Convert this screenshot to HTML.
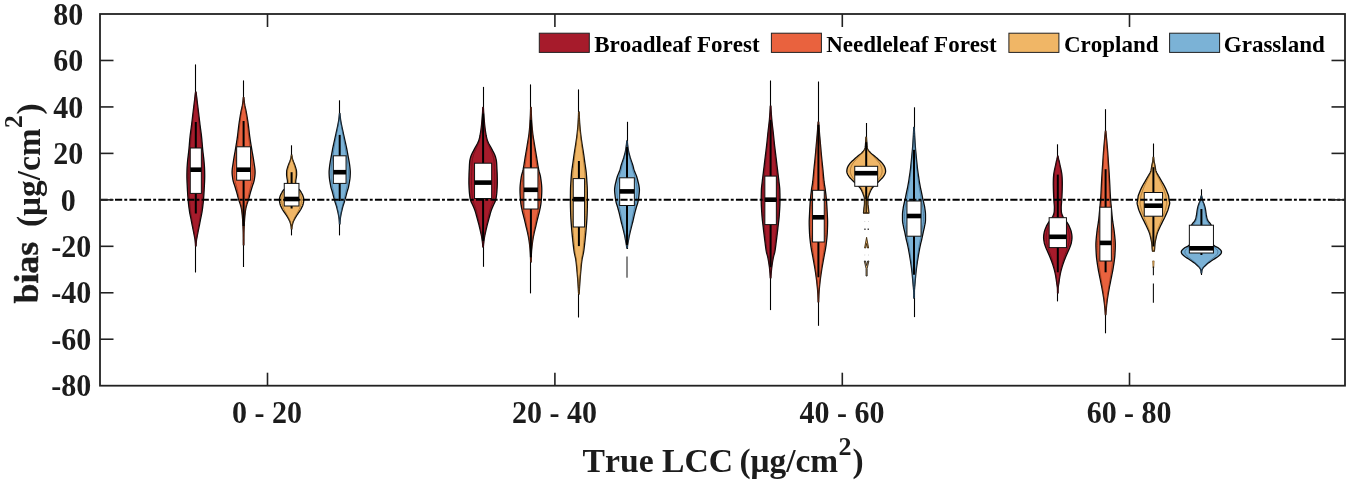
<!DOCTYPE html>
<html><head><meta charset="utf-8"><title>Violin plot: bias vs True LCC</title>
<style>
html,body{margin:0;padding:0;background:#fff;}
body{width:1350px;height:482px;overflow:hidden;font-family:"Liberation Serif",serif;}
svg{display:block;will-change:transform;transform:translateZ(0);}
</style></head><body>
<svg width="1350" height="482" viewBox="0 0 1350 482">
<rect x="0" y="0" width="1350" height="482" fill="#ffffff"/>
<line x1="195.5" y1="64.4" x2="195.5" y2="272.5" stroke="#000" stroke-width="1.1"/>
<path d="M196.05,92.00 L196.22,93.41 L196.39,94.83 L196.57,96.24 L196.74,97.65 L196.91,99.06 L197.08,100.48 L197.25,101.89 L197.42,103.30 L197.60,104.72 L197.77,106.13 L197.94,107.54 L198.11,108.95 L198.28,110.37 L198.45,111.78 L198.62,113.19 L198.79,114.61 L198.96,116.02 L199.12,117.43 L199.29,118.84 L199.46,120.26 L199.63,121.67 L199.80,123.08 L199.97,124.50 L200.15,125.91 L200.34,127.32 L200.53,128.73 L200.73,130.15 L200.92,131.56 L201.11,132.97 L201.29,134.39 L201.46,135.80 L201.61,137.21 L201.75,138.62 L201.88,140.04 L202.00,141.45 L202.12,142.86 L202.24,144.28 L202.35,145.69 L202.47,147.10 L202.60,148.51 L202.73,149.93 L202.88,151.34 L203.05,152.75 L203.22,154.17 L203.39,155.58 L203.56,156.99 L203.73,158.40 L203.88,159.82 L204.02,161.23 L204.14,162.64 L204.25,164.06 L204.36,165.47 L204.45,166.88 L204.54,168.29 L204.59,169.71 L204.63,171.12 L204.66,172.53 L204.68,173.94 L204.70,175.36 L204.70,176.77 L204.68,178.18 L204.64,179.60 L204.59,181.01 L204.53,182.42 L204.46,183.83 L204.39,185.25 L204.32,186.66 L204.25,188.07 L204.18,189.49 L204.11,190.90 L204.02,192.31 L203.94,193.72 L203.84,195.14 L203.74,196.55 L203.63,197.96 L203.52,199.38 L203.40,200.79 L203.26,202.20 L203.11,203.61 L202.95,205.03 L202.78,206.44 L202.60,207.85 L202.40,209.27 L202.20,210.68 L201.99,212.09 L201.74,213.50 L201.46,214.92 L201.16,216.33 L200.86,217.74 L200.57,219.16 L200.30,220.57 L200.04,221.98 L199.77,223.39 L199.49,224.81 L199.20,226.22 L198.91,227.63 L198.62,229.05 L198.33,230.46 L198.04,231.87 L197.77,233.28 L197.50,234.70 L197.23,236.11 L196.94,237.52 L196.68,238.94 L196.47,240.35 L196.33,241.76 L196.20,243.17 L196.11,244.59 L196.05,246.00 L195.55,246.00 L195.49,244.59 L195.40,243.17 L195.27,241.76 L195.13,240.35 L194.92,238.94 L194.66,237.52 L194.37,236.11 L194.10,234.70 L193.83,233.28 L193.56,231.87 L193.27,230.46 L192.98,229.05 L192.69,227.63 L192.40,226.22 L192.11,224.81 L191.83,223.39 L191.56,221.98 L191.30,220.57 L191.03,219.16 L190.74,217.74 L190.44,216.33 L190.14,214.92 L189.86,213.50 L189.61,212.09 L189.40,210.68 L189.20,209.27 L189.00,207.85 L188.82,206.44 L188.65,205.03 L188.49,203.61 L188.34,202.20 L188.20,200.79 L188.08,199.38 L187.97,197.96 L187.86,196.55 L187.76,195.14 L187.66,193.72 L187.58,192.31 L187.49,190.90 L187.42,189.49 L187.35,188.07 L187.28,186.66 L187.21,185.25 L187.14,183.83 L187.07,182.42 L187.01,181.01 L186.96,179.60 L186.92,178.18 L186.90,176.77 L186.90,175.36 L186.92,173.94 L186.94,172.53 L186.97,171.12 L187.01,169.71 L187.06,168.29 L187.15,166.88 L187.24,165.47 L187.35,164.06 L187.46,162.64 L187.58,161.23 L187.72,159.82 L187.87,158.40 L188.04,156.99 L188.21,155.58 L188.38,154.17 L188.55,152.75 L188.72,151.34 L188.87,149.93 L189.00,148.51 L189.13,147.10 L189.25,145.69 L189.36,144.28 L189.48,142.86 L189.60,141.45 L189.72,140.04 L189.85,138.62 L189.99,137.21 L190.14,135.80 L190.31,134.39 L190.49,132.97 L190.68,131.56 L190.87,130.15 L191.07,128.73 L191.26,127.32 L191.45,125.91 L191.63,124.50 L191.80,123.08 L191.97,121.67 L192.14,120.26 L192.31,118.84 L192.48,117.43 L192.64,116.02 L192.81,114.61 L192.98,113.19 L193.15,111.78 L193.32,110.37 L193.49,108.95 L193.66,107.54 L193.83,106.13 L194.00,104.72 L194.18,103.30 L194.35,101.89 L194.52,100.48 L194.69,99.06 L194.86,97.65 L195.03,96.24 L195.21,94.83 L195.38,93.41 L195.55,92.00 Z" fill="#A61B2B" stroke="#0a0a0a" stroke-width="1.3" stroke-linejoin="round"/>
<path d="M196.01,92.00 L196.15,93.41 L196.29,94.83 L196.43,96.24 L196.57,97.65 L196.71,99.06 L196.85,100.48 L196.99,101.89 L197.13,103.30 L197.27,104.72 L197.41,106.13 L197.55,107.54 L197.69,108.95 L197.83,110.37 L197.97,111.78 L198.11,113.19 L198.25,114.61 L198.39,116.02 L198.52,117.43 L198.66,118.84 L198.80,120.26 L198.94,121.67 L199.08,123.08 L199.22,124.50 L199.37,125.91 L199.52,127.32 L199.68,128.73 L199.84,130.15 L200.00,131.56 L200.15,132.97 L200.30,134.39 L200.44,135.80 L200.57,137.21 L200.68,138.62 L200.79,140.04 L200.89,141.45 L200.98,142.86 L201.08,144.28 L201.17,145.69 L201.27,147.10 L201.37,148.51 L201.48,149.93 L201.61,151.34 L201.74,152.75 L201.88,154.17 L202.02,155.58 L202.16,156.99 L202.30,158.40 L202.43,159.82 L202.54,161.23 L202.63,162.64 L202.73,164.06 L202.82,165.47 L202.90,166.88 L202.96,168.29 L203.01,169.71 L203.04,171.12 L203.07,172.53 L203.09,173.94 L203.10,175.36 L203.10,176.77 L203.08,178.18 L203.05,179.60 L203.00,181.01 L202.95,182.42 L202.90,183.83 L202.84,185.25 L202.79,186.66 L202.73,188.07 L202.67,189.49 L202.61,190.90 L202.54,192.31 L202.47,193.72 L202.39,195.14 L202.31,196.55 L202.22,197.96 L202.13,199.38 L202.03,200.79 L201.92,202.20 L201.80,203.61 L201.66,205.03 L201.52,206.44 L201.37,207.85 L201.21,209.27 L201.05,210.68 L200.87,212.09 L200.67,213.50 L200.44,214.92 L200.20,216.33 L199.95,217.74 L199.71,219.16 L199.49,220.57 L199.28,221.98 L199.05,223.39 L198.82,224.81 L198.59,226.22 L198.35,227.63 L198.11,229.05 L197.87,230.46 L197.64,231.87 L197.41,233.28 L197.19,234.70 L196.97,236.11 L196.74,237.52 L196.53,238.94 L196.35,240.35 L196.23,241.76 L196.13,243.17 L196.05,244.59 L196.01,246.00 L195.59,246.00 L195.55,244.59 L195.47,243.17 L195.37,241.76 L195.25,240.35 L195.07,238.94 L194.86,237.52 L194.63,236.11 L194.41,234.70 L194.19,233.28 L193.96,231.87 L193.73,230.46 L193.49,229.05 L193.25,227.63 L193.01,226.22 L192.78,224.81 L192.55,223.39 L192.32,221.98 L192.11,220.57 L191.89,219.16 L191.65,217.74 L191.40,216.33 L191.16,214.92 L190.93,213.50 L190.73,212.09 L190.55,210.68 L190.39,209.27 L190.23,207.85 L190.08,206.44 L189.94,205.03 L189.80,203.61 L189.68,202.20 L189.57,200.79 L189.47,199.38 L189.38,197.96 L189.29,196.55 L189.21,195.14 L189.13,193.72 L189.06,192.31 L188.99,190.90 L188.93,189.49 L188.87,188.07 L188.81,186.66 L188.76,185.25 L188.70,183.83 L188.65,182.42 L188.60,181.01 L188.55,179.60 L188.52,178.18 L188.50,176.77 L188.50,175.36 L188.51,173.94 L188.53,172.53 L188.56,171.12 L188.59,169.71 L188.64,168.29 L188.70,166.88 L188.78,165.47 L188.87,164.06 L188.97,162.64 L189.06,161.23 L189.17,159.82 L189.30,158.40 L189.44,156.99 L189.58,155.58 L189.72,154.17 L189.86,152.75 L189.99,151.34 L190.12,149.93 L190.23,148.51 L190.33,147.10 L190.43,145.69 L190.52,144.28 L190.62,142.86 L190.71,141.45 L190.81,140.04 L190.92,138.62 L191.03,137.21 L191.16,135.80 L191.30,134.39 L191.45,132.97 L191.60,131.56 L191.76,130.15 L191.92,128.73 L192.08,127.32 L192.23,125.91 L192.38,124.50 L192.52,123.08 L192.66,121.67 L192.80,120.26 L192.94,118.84 L193.08,117.43 L193.21,116.02 L193.35,114.61 L193.49,113.19 L193.63,111.78 L193.77,110.37 L193.91,108.95 L194.05,107.54 L194.19,106.13 L194.33,104.72 L194.47,103.30 L194.61,101.89 L194.75,100.48 L194.89,99.06 L195.03,97.65 L195.17,96.24 L195.31,94.83 L195.45,93.41 L195.59,92.00 Z" fill="none" stroke="#5c0a14" stroke-width="0.8" stroke-opacity="0.8"/>
<line x1="195.8" y1="122" x2="195.8" y2="213.5" stroke="#000" stroke-width="2"/>
<rect x="190.25" y="148.0" width="11.10" height="45.40" fill="#fff" stroke="#111" stroke-width="1"/>
<rect x="190.25" y="167.40" width="11.10" height="4.6" fill="#000"/>
<line x1="243.5" y1="80.4" x2="243.5" y2="267" stroke="#000" stroke-width="1.1"/>
<path d="M243.85,97.30 L243.96,98.66 L244.09,100.01 L244.25,101.37 L244.42,102.72 L244.61,104.08 L244.84,105.43 L245.12,106.79 L245.42,108.14 L245.73,109.50 L246.03,110.85 L246.30,112.21 L246.54,113.56 L246.78,114.92 L247.01,116.27 L247.24,117.63 L247.45,118.98 L247.66,120.34 L247.87,121.69 L248.07,123.05 L248.26,124.40 L248.44,125.76 L248.61,127.11 L248.78,128.47 L248.93,129.82 L249.09,131.18 L249.24,132.53 L249.40,133.89 L249.57,135.24 L249.74,136.60 L249.93,137.95 L250.13,139.31 L250.34,140.66 L250.55,142.02 L250.77,143.37 L250.99,144.73 L251.22,146.08 L251.44,147.44 L251.67,148.79 L251.89,150.15 L252.12,151.50 L252.36,152.86 L252.60,154.21 L252.85,155.57 L253.09,156.92 L253.32,158.28 L253.55,159.63 L253.75,160.99 L253.95,162.34 L254.15,163.70 L254.36,165.05 L254.57,166.41 L254.77,167.76 L254.93,169.12 L255.04,170.47 L255.10,171.83 L255.08,173.18 L254.99,174.54 L254.85,175.89 L254.68,177.25 L254.47,178.60 L254.26,179.96 L253.95,181.31 L253.56,182.67 L253.10,184.02 L252.63,185.38 L252.18,186.73 L251.77,188.09 L251.36,189.44 L250.95,190.80 L250.54,192.15 L250.16,193.51 L249.80,194.86 L249.45,196.22 L249.10,197.57 L248.73,198.93 L248.32,200.28 L247.84,201.64 L247.35,202.99 L246.89,204.35 L246.51,205.70 L246.16,207.06 L245.85,208.41 L245.60,209.77 L245.42,211.12 L245.24,212.48 L245.09,213.83 L244.94,215.19 L244.81,216.54 L244.70,217.90 L244.59,219.25 L244.50,220.61 L244.41,221.96 L244.34,223.32 L244.26,224.67 L244.19,226.03 L244.12,227.38 L244.06,228.74 L244.01,230.09 L243.96,231.45 L243.93,232.80 L243.91,234.16 L243.89,235.51 L243.88,236.87 L243.87,238.22 L243.87,239.58 L243.86,240.93 L243.85,242.29 L243.85,243.64 L243.85,245.00 L243.35,245.00 L243.35,243.64 L243.35,242.29 L243.34,240.93 L243.33,239.58 L243.33,238.22 L243.32,236.87 L243.31,235.51 L243.29,234.16 L243.27,232.80 L243.24,231.45 L243.19,230.09 L243.14,228.74 L243.08,227.38 L243.01,226.03 L242.94,224.67 L242.86,223.32 L242.79,221.96 L242.70,220.61 L242.61,219.25 L242.50,217.90 L242.39,216.54 L242.26,215.19 L242.11,213.83 L241.96,212.48 L241.78,211.12 L241.60,209.77 L241.35,208.41 L241.04,207.06 L240.69,205.70 L240.31,204.35 L239.85,202.99 L239.36,201.64 L238.88,200.28 L238.47,198.93 L238.10,197.57 L237.75,196.22 L237.40,194.86 L237.04,193.51 L236.66,192.15 L236.25,190.80 L235.84,189.44 L235.43,188.09 L235.02,186.73 L234.57,185.38 L234.10,184.02 L233.64,182.67 L233.25,181.31 L232.94,179.96 L232.73,178.60 L232.52,177.25 L232.35,175.89 L232.21,174.54 L232.12,173.18 L232.10,171.83 L232.16,170.47 L232.27,169.12 L232.43,167.76 L232.63,166.41 L232.84,165.05 L233.05,163.70 L233.25,162.34 L233.45,160.99 L233.65,159.63 L233.88,158.28 L234.11,156.92 L234.35,155.57 L234.60,154.21 L234.84,152.86 L235.08,151.50 L235.31,150.15 L235.53,148.79 L235.76,147.44 L235.98,146.08 L236.21,144.73 L236.43,143.37 L236.65,142.02 L236.86,140.66 L237.07,139.31 L237.27,137.95 L237.46,136.60 L237.63,135.24 L237.80,133.89 L237.96,132.53 L238.11,131.18 L238.27,129.82 L238.42,128.47 L238.59,127.11 L238.76,125.76 L238.94,124.40 L239.13,123.05 L239.33,121.69 L239.54,120.34 L239.75,118.98 L239.96,117.63 L240.19,116.27 L240.42,114.92 L240.66,113.56 L240.90,112.21 L241.17,110.85 L241.47,109.50 L241.78,108.14 L242.08,106.79 L242.36,105.43 L242.59,104.08 L242.78,102.72 L242.95,101.37 L243.11,100.01 L243.24,98.66 L243.35,97.30 Z" fill="#E9623E" stroke="#0a0a0a" stroke-width="1.3" stroke-linejoin="round"/>
<path d="M243.81,97.30 L243.89,98.66 L244.00,100.01 L244.13,101.37 L244.27,102.72 L244.43,104.08 L244.62,105.43 L244.84,106.79 L245.09,108.14 L245.35,109.50 L245.59,110.85 L245.81,112.21 L246.01,113.56 L246.21,114.92 L246.40,116.27 L246.58,117.63 L246.76,118.98 L246.93,120.34 L247.10,121.69 L247.26,123.05 L247.42,124.40 L247.57,125.76 L247.71,127.11 L247.84,128.47 L247.97,129.82 L248.10,131.18 L248.23,132.53 L248.36,133.89 L248.49,135.24 L248.64,136.60 L248.79,137.95 L248.96,139.31 L249.13,140.66 L249.30,142.02 L249.48,143.37 L249.66,144.73 L249.85,146.08 L250.03,147.44 L250.21,148.79 L250.40,150.15 L250.59,151.50 L250.78,152.86 L250.98,154.21 L251.18,155.57 L251.38,156.92 L251.57,158.28 L251.76,159.63 L251.93,160.99 L252.09,162.34 L252.25,163.70 L252.43,165.05 L252.60,166.41 L252.76,167.76 L252.89,169.12 L252.98,170.47 L253.03,171.83 L253.01,173.18 L252.94,174.54 L252.83,175.89 L252.68,177.25 L252.52,178.60 L252.34,179.96 L252.09,181.31 L251.76,182.67 L251.39,184.02 L251.00,185.38 L250.64,186.73 L250.30,188.09 L249.96,189.44 L249.62,190.80 L249.29,192.15 L248.98,193.51 L248.68,194.86 L248.40,196.22 L248.11,197.57 L247.80,198.93 L247.47,200.28 L247.08,201.64 L246.67,202.99 L246.30,204.35 L245.99,205.70 L245.70,207.06 L245.44,208.41 L245.24,209.77 L245.09,211.12 L244.95,212.48 L244.82,213.83 L244.70,215.19 L244.59,216.54 L244.50,217.90 L244.41,219.25 L244.34,220.61 L244.27,221.96 L244.20,223.32 L244.14,224.67 L244.08,226.03 L244.03,227.38 L243.98,228.74 L243.93,230.09 L243.90,231.45 L243.87,232.80 L243.85,234.16 L243.84,235.51 L243.83,236.87 L243.82,238.22 L243.82,239.58 L243.81,240.93 L243.81,242.29 L243.81,243.64 L243.81,245.00 L243.39,245.00 L243.39,243.64 L243.39,242.29 L243.39,240.93 L243.38,239.58 L243.38,238.22 L243.37,236.87 L243.36,235.51 L243.35,234.16 L243.33,232.80 L243.30,231.45 L243.27,230.09 L243.22,228.74 L243.17,227.38 L243.12,226.03 L243.06,224.67 L243.00,223.32 L242.93,221.96 L242.86,220.61 L242.79,219.25 L242.70,217.90 L242.61,216.54 L242.50,215.19 L242.38,213.83 L242.25,212.48 L242.11,211.12 L241.96,209.77 L241.76,208.41 L241.50,207.06 L241.21,205.70 L240.90,204.35 L240.53,202.99 L240.12,201.64 L239.73,200.28 L239.40,198.93 L239.09,197.57 L238.80,196.22 L238.52,194.86 L238.22,193.51 L237.91,192.15 L237.58,190.80 L237.24,189.44 L236.90,188.09 L236.56,186.73 L236.20,185.38 L235.81,184.02 L235.44,182.67 L235.11,181.31 L234.86,179.96 L234.68,178.60 L234.52,177.25 L234.37,175.89 L234.26,174.54 L234.19,173.18 L234.17,171.83 L234.22,170.47 L234.31,169.12 L234.44,167.76 L234.60,166.41 L234.77,165.05 L234.95,163.70 L235.11,162.34 L235.27,160.99 L235.44,159.63 L235.63,158.28 L235.82,156.92 L236.02,155.57 L236.22,154.21 L236.42,152.86 L236.61,151.50 L236.80,150.15 L236.99,148.79 L237.17,147.44 L237.35,146.08 L237.54,144.73 L237.72,143.37 L237.90,142.02 L238.07,140.66 L238.24,139.31 L238.41,137.95 L238.56,136.60 L238.71,135.24 L238.84,133.89 L238.97,132.53 L239.10,131.18 L239.23,129.82 L239.36,128.47 L239.49,127.11 L239.63,125.76 L239.78,124.40 L239.94,123.05 L240.10,121.69 L240.27,120.34 L240.44,118.98 L240.62,117.63 L240.80,116.27 L240.99,114.92 L241.19,113.56 L241.39,112.21 L241.61,110.85 L241.85,109.50 L242.11,108.14 L242.36,106.79 L242.58,105.43 L242.77,104.08 L242.93,102.72 L243.07,101.37 L243.20,100.01 L243.31,98.66 L243.39,97.30 Z" fill="none" stroke="#7a2a12" stroke-width="0.8" stroke-opacity="0.8"/>
<line x1="243.6" y1="121" x2="243.6" y2="226" stroke="#000" stroke-width="2"/>
<rect x="236.65" y="146.8" width="13.90" height="33.40" fill="#fff" stroke="#111" stroke-width="1"/>
<rect x="236.65" y="167.40" width="13.90" height="4.6" fill="#000"/>
<line x1="291.5" y1="145.3" x2="291.5" y2="235.4" stroke="#000" stroke-width="1.1"/>
<path d="M291.85,155.00 L291.91,155.68 L292.01,156.36 L292.12,157.04 L292.24,157.72 L292.39,158.39 L292.57,159.07 L292.78,159.75 L293.01,160.43 L293.24,161.11 L293.49,161.79 L293.76,162.47 L294.03,163.15 L294.31,163.83 L294.58,164.50 L294.84,165.18 L295.09,165.86 L295.31,166.54 L295.53,167.22 L295.73,167.90 L295.92,168.58 L296.11,169.26 L296.30,169.94 L296.45,170.61 L296.51,171.29 L296.54,171.97 L296.57,172.65 L296.59,173.33 L296.60,174.01 L296.60,174.69 L296.55,175.37 L296.47,176.05 L296.38,176.72 L296.29,177.40 L296.18,178.08 L296.06,178.76 L295.93,179.44 L295.81,180.12 L295.73,180.80 L295.70,181.48 L295.70,182.16 L295.70,182.83 L295.70,183.51 L295.70,184.19 L295.70,184.87 L295.73,185.55 L295.86,186.23 L296.08,186.91 L296.38,187.59 L296.89,188.27 L298.29,188.94 L299.27,189.62 L299.91,190.30 L300.43,190.98 L300.84,191.66 L301.21,192.34 L301.60,193.02 L301.99,193.70 L302.34,194.38 L302.65,195.06 L302.93,195.73 L303.17,196.41 L303.39,197.09 L303.56,197.77 L303.67,198.45 L303.76,199.13 L303.80,199.81 L303.78,200.49 L303.70,201.17 L303.59,201.84 L303.48,202.52 L303.35,203.20 L303.19,203.88 L303.00,204.56 L302.79,205.24 L302.51,205.92 L302.19,206.60 L301.86,207.28 L301.53,207.95 L301.19,208.63 L300.83,209.31 L300.45,209.99 L300.01,210.67 L299.54,211.35 L299.06,212.03 L298.59,212.71 L298.13,213.39 L297.66,214.06 L297.20,214.74 L296.75,215.42 L296.31,216.10 L295.88,216.78 L295.47,217.46 L295.08,218.14 L294.71,218.82 L294.35,219.50 L294.01,220.17 L293.67,220.85 L293.37,221.53 L293.12,222.21 L292.90,222.89 L292.71,223.57 L292.54,224.25 L292.37,224.93 L292.21,225.61 L292.08,226.28 L291.98,226.96 L291.92,227.64 L291.87,228.32 L291.85,229.00 L291.35,229.00 L291.33,228.32 L291.28,227.64 L291.22,226.96 L291.12,226.28 L290.99,225.61 L290.83,224.93 L290.66,224.25 L290.49,223.57 L290.30,222.89 L290.08,222.21 L289.83,221.53 L289.53,220.85 L289.19,220.17 L288.85,219.50 L288.49,218.82 L288.12,218.14 L287.73,217.46 L287.32,216.78 L286.89,216.10 L286.45,215.42 L286.00,214.74 L285.54,214.06 L285.07,213.39 L284.61,212.71 L284.14,212.03 L283.66,211.35 L283.19,210.67 L282.75,209.99 L282.37,209.31 L282.01,208.63 L281.67,207.95 L281.34,207.28 L281.01,206.60 L280.69,205.92 L280.41,205.24 L280.20,204.56 L280.01,203.88 L279.85,203.20 L279.72,202.52 L279.61,201.84 L279.50,201.17 L279.42,200.49 L279.40,199.81 L279.44,199.13 L279.53,198.45 L279.64,197.77 L279.81,197.09 L280.03,196.41 L280.27,195.73 L280.55,195.06 L280.86,194.38 L281.21,193.70 L281.60,193.02 L281.99,192.34 L282.36,191.66 L282.77,190.98 L283.29,190.30 L283.93,189.62 L284.91,188.94 L286.31,188.27 L286.82,187.59 L287.12,186.91 L287.34,186.23 L287.47,185.55 L287.50,184.87 L287.50,184.19 L287.50,183.51 L287.50,182.83 L287.50,182.16 L287.50,181.48 L287.47,180.80 L287.39,180.12 L287.27,179.44 L287.14,178.76 L287.02,178.08 L286.91,177.40 L286.82,176.72 L286.73,176.05 L286.65,175.37 L286.60,174.69 L286.60,174.01 L286.61,173.33 L286.63,172.65 L286.66,171.97 L286.69,171.29 L286.75,170.61 L286.90,169.94 L287.09,169.26 L287.28,168.58 L287.47,167.90 L287.67,167.22 L287.89,166.54 L288.11,165.86 L288.36,165.18 L288.62,164.50 L288.89,163.83 L289.17,163.15 L289.44,162.47 L289.71,161.79 L289.96,161.11 L290.19,160.43 L290.42,159.75 L290.63,159.07 L290.81,158.39 L290.96,157.72 L291.08,157.04 L291.19,156.36 L291.29,155.68 L291.35,155.00 Z" fill="#F0B666" stroke="#0a0a0a" stroke-width="1.3" stroke-linejoin="round"/>
<path d="M291.81,155.00 L291.86,155.68 L291.93,156.36 L292.02,157.04 L292.13,157.72 L292.25,158.39 L292.40,159.07 L292.57,159.75 L292.76,160.43 L292.94,161.11 L293.15,161.79 L293.37,162.47 L293.59,163.15 L293.82,163.83 L294.05,164.50 L294.26,165.18 L294.46,165.86 L294.65,166.54 L294.82,167.22 L294.99,167.90 L295.14,168.58 L295.30,169.26 L295.46,169.94 L295.57,170.61 L295.63,171.29 L295.65,171.97 L295.67,172.65 L295.69,173.33 L295.70,174.01 L295.70,174.69 L295.66,175.37 L295.60,176.05 L295.52,176.72 L295.44,177.40 L295.36,178.08 L295.25,178.76 L295.15,179.44 L295.06,180.12 L294.99,180.80 L294.96,181.48 L294.96,182.16 L294.96,182.83 L294.96,183.51 L294.96,184.19 L294.96,184.87 L294.99,185.55 L295.09,186.23 L295.27,186.91 L295.52,187.59 L295.94,188.27 L297.08,188.94 L297.89,189.62 L298.42,190.30 L298.84,190.98 L299.18,191.66 L299.48,192.34 L299.80,193.02 L300.12,193.70 L300.40,194.38 L300.66,195.06 L300.89,195.73 L301.09,196.41 L301.27,197.09 L301.41,197.77 L301.50,198.45 L301.57,199.13 L301.60,199.81 L301.58,200.49 L301.52,201.17 L301.43,201.84 L301.34,202.52 L301.23,203.20 L301.10,203.88 L300.95,204.56 L300.77,205.24 L300.54,205.92 L300.28,206.60 L300.01,207.28 L299.75,207.95 L299.47,208.63 L299.17,209.31 L298.85,209.99 L298.50,210.67 L298.11,211.35 L297.72,212.03 L297.33,212.71 L296.95,213.39 L296.57,214.06 L296.20,214.74 L295.83,215.42 L295.46,216.10 L295.11,216.78 L294.77,217.46 L294.45,218.14 L294.15,218.82 L293.86,219.50 L293.58,220.17 L293.30,220.85 L293.05,221.53 L292.84,222.21 L292.66,222.89 L292.51,223.57 L292.37,224.25 L292.23,224.93 L292.10,225.61 L292.00,226.28 L291.92,226.96 L291.86,227.64 L291.83,228.32 L291.81,229.00 L291.40,229.00 L291.37,228.32 L291.34,227.64 L291.28,226.96 L291.20,226.28 L291.10,225.61 L290.97,224.93 L290.83,224.25 L290.69,223.57 L290.54,222.89 L290.36,222.21 L290.15,221.53 L289.90,220.85 L289.62,220.17 L289.34,219.50 L289.05,218.82 L288.75,218.14 L288.43,217.46 L288.09,216.78 L287.74,216.10 L287.37,215.42 L287.00,214.74 L286.63,214.06 L286.25,213.39 L285.87,212.71 L285.48,212.03 L285.09,211.35 L284.70,210.67 L284.35,209.99 L284.03,209.31 L283.73,208.63 L283.45,207.95 L283.19,207.28 L282.92,206.60 L282.66,205.92 L282.43,205.24 L282.25,204.56 L282.10,203.88 L281.97,203.20 L281.86,202.52 L281.77,201.84 L281.68,201.17 L281.62,200.49 L281.60,199.81 L281.63,199.13 L281.70,198.45 L281.79,197.77 L281.93,197.09 L282.11,196.41 L282.31,195.73 L282.54,195.06 L282.80,194.38 L283.08,193.70 L283.40,193.02 L283.72,192.34 L284.02,191.66 L284.36,190.98 L284.78,190.30 L285.31,189.62 L286.12,188.94 L287.26,188.27 L287.68,187.59 L287.93,186.91 L288.11,186.23 L288.21,185.55 L288.24,184.87 L288.24,184.19 L288.24,183.51 L288.24,182.83 L288.24,182.16 L288.24,181.48 L288.21,180.80 L288.14,180.12 L288.05,179.44 L287.95,178.76 L287.84,178.08 L287.76,177.40 L287.68,176.72 L287.60,176.05 L287.54,175.37 L287.50,174.69 L287.50,174.01 L287.51,173.33 L287.53,172.65 L287.55,171.97 L287.57,171.29 L287.63,170.61 L287.74,169.94 L287.90,169.26 L288.06,168.58 L288.21,167.90 L288.38,167.22 L288.55,166.54 L288.74,165.86 L288.94,165.18 L289.15,164.50 L289.38,163.83 L289.61,163.15 L289.83,162.47 L290.05,161.79 L290.26,161.11 L290.44,160.43 L290.63,159.75 L290.80,159.07 L290.95,158.39 L291.07,157.72 L291.18,157.04 L291.27,156.36 L291.34,155.68 L291.40,155.00 Z" fill="none" stroke="#8a5a1a" stroke-width="0.8" stroke-opacity="0.8"/>
<line x1="291.6" y1="172.2" x2="291.6" y2="208.5" stroke="#000" stroke-width="2"/>
<rect x="284.25" y="183.4" width="14.70" height="22.60" fill="#fff" stroke="#111" stroke-width="1"/>
<rect x="284.25" y="196.70" width="14.70" height="4.6" fill="#000"/>
<line x1="339.5" y1="100.3" x2="339.5" y2="235.4" stroke="#000" stroke-width="1.1"/>
<path d="M339.95,113.50 L340.02,114.51 L340.11,115.53 L340.21,116.54 L340.32,117.56 L340.45,118.57 L340.58,119.58 L340.73,120.60 L340.91,121.61 L341.10,122.62 L341.29,123.64 L341.49,124.65 L341.69,125.67 L341.89,126.68 L342.11,127.69 L342.33,128.71 L342.55,129.72 L342.77,130.73 L343.00,131.75 L343.23,132.76 L343.46,133.78 L343.69,134.79 L343.92,135.80 L344.14,136.82 L344.36,137.83 L344.58,138.84 L344.81,139.86 L345.03,140.87 L345.26,141.89 L345.48,142.90 L345.70,143.91 L345.93,144.93 L346.14,145.94 L346.36,146.95 L346.57,147.97 L346.78,148.98 L346.98,150.00 L347.17,151.01 L347.36,152.02 L347.54,153.04 L347.73,154.05 L347.91,155.06 L348.10,156.08 L348.29,157.09 L348.48,158.11 L348.67,159.12 L348.85,160.13 L349.03,161.15 L349.19,162.16 L349.35,163.17 L349.51,164.19 L349.66,165.20 L349.80,166.22 L349.92,167.23 L350.02,168.24 L350.12,169.26 L350.21,170.27 L350.28,171.28 L350.30,172.30 L350.29,173.31 L350.25,174.33 L350.20,175.34 L350.14,176.35 L350.07,177.37 L349.97,178.38 L349.84,179.39 L349.69,180.41 L349.53,181.42 L349.36,182.44 L349.19,183.45 L349.01,184.46 L348.82,185.48 L348.61,186.49 L348.38,187.50 L348.10,188.52 L347.79,189.53 L347.47,190.55 L347.15,191.56 L346.87,192.57 L346.61,193.59 L346.36,194.60 L346.10,195.61 L345.83,196.63 L345.57,197.64 L345.29,198.66 L345.01,199.67 L344.71,200.68 L344.41,201.70 L344.09,202.71 L343.76,203.72 L343.41,204.74 L343.07,205.75 L342.79,206.77 L342.53,207.78 L342.29,208.79 L342.05,209.81 L341.81,210.82 L341.56,211.83 L341.33,212.85 L341.13,213.86 L340.93,214.88 L340.75,215.89 L340.57,216.90 L340.41,217.92 L340.28,218.93 L340.18,219.94 L340.10,220.96 L340.03,221.97 L339.98,222.99 L339.95,224.00 L339.45,224.00 L339.42,222.99 L339.37,221.97 L339.30,220.96 L339.22,219.94 L339.12,218.93 L338.99,217.92 L338.83,216.90 L338.65,215.89 L338.47,214.88 L338.27,213.86 L338.07,212.85 L337.84,211.83 L337.59,210.82 L337.35,209.81 L337.11,208.79 L336.87,207.78 L336.61,206.77 L336.33,205.75 L335.99,204.74 L335.64,203.72 L335.31,202.71 L334.99,201.70 L334.69,200.68 L334.39,199.67 L334.11,198.66 L333.83,197.64 L333.57,196.63 L333.30,195.61 L333.04,194.60 L332.79,193.59 L332.53,192.57 L332.25,191.56 L331.93,190.55 L331.61,189.53 L331.30,188.52 L331.02,187.50 L330.79,186.49 L330.58,185.48 L330.39,184.46 L330.21,183.45 L330.04,182.44 L329.87,181.42 L329.71,180.41 L329.56,179.39 L329.43,178.38 L329.33,177.37 L329.26,176.35 L329.20,175.34 L329.15,174.33 L329.11,173.31 L329.10,172.30 L329.12,171.28 L329.19,170.27 L329.28,169.26 L329.38,168.24 L329.48,167.23 L329.60,166.22 L329.74,165.20 L329.89,164.19 L330.05,163.17 L330.21,162.16 L330.37,161.15 L330.55,160.13 L330.73,159.12 L330.92,158.11 L331.11,157.09 L331.30,156.08 L331.49,155.06 L331.67,154.05 L331.86,153.04 L332.04,152.02 L332.23,151.01 L332.42,150.00 L332.62,148.98 L332.83,147.97 L333.04,146.95 L333.26,145.94 L333.47,144.93 L333.70,143.91 L333.92,142.90 L334.14,141.89 L334.37,140.87 L334.59,139.86 L334.82,138.84 L335.04,137.83 L335.26,136.82 L335.48,135.80 L335.71,134.79 L335.94,133.78 L336.17,132.76 L336.40,131.75 L336.63,130.73 L336.85,129.72 L337.07,128.71 L337.29,127.69 L337.51,126.68 L337.71,125.67 L337.91,124.65 L338.11,123.64 L338.30,122.62 L338.49,121.61 L338.67,120.60 L338.82,119.58 L338.95,118.57 L339.08,117.56 L339.19,116.54 L339.29,115.53 L339.38,114.51 L339.45,113.50 Z" fill="#7BB2D6" stroke="#0a0a0a" stroke-width="1.3" stroke-linejoin="round"/>
<path d="M339.90,113.50 L339.96,114.51 L340.04,115.53 L340.12,116.54 L340.21,117.56 L340.31,118.57 L340.42,119.58 L340.55,120.60 L340.69,121.61 L340.85,122.62 L341.01,123.64 L341.17,124.65 L341.33,125.67 L341.50,126.68 L341.67,127.69 L341.85,128.71 L342.04,129.72 L342.22,130.73 L342.41,131.75 L342.60,132.76 L342.78,133.78 L342.97,134.79 L343.16,135.80 L343.34,136.82 L343.52,137.83 L343.70,138.84 L343.89,139.86 L344.07,140.87 L344.26,141.89 L344.44,142.90 L344.62,143.91 L344.80,144.93 L344.98,145.94 L345.16,146.95 L345.33,147.97 L345.50,148.98 L345.67,150.00 L345.83,151.01 L345.98,152.02 L346.13,153.04 L346.28,154.05 L346.43,155.06 L346.59,156.08 L346.74,157.09 L346.90,158.11 L347.06,159.12 L347.21,160.13 L347.35,161.15 L347.48,162.16 L347.62,163.17 L347.74,164.19 L347.87,165.20 L347.98,166.22 L348.08,167.23 L348.16,168.24 L348.25,169.26 L348.32,170.27 L348.37,171.28 L348.39,172.30 L348.38,173.31 L348.35,174.33 L348.31,175.34 L348.26,176.35 L348.21,177.37 L348.12,178.38 L348.02,179.39 L347.89,180.41 L347.76,181.42 L347.62,182.44 L347.48,183.45 L347.34,184.46 L347.18,185.48 L347.00,186.49 L346.81,187.50 L346.59,188.52 L346.34,189.53 L346.07,190.55 L345.81,191.56 L345.58,192.57 L345.37,193.59 L345.16,194.60 L344.95,195.61 L344.73,196.63 L344.51,197.64 L344.29,198.66 L344.05,199.67 L343.81,200.68 L343.56,201.70 L343.30,202.71 L343.03,203.72 L342.74,204.74 L342.47,205.75 L342.23,206.77 L342.02,207.78 L341.82,208.79 L341.63,209.81 L341.43,210.82 L341.23,211.83 L341.04,212.85 L340.87,213.86 L340.71,214.88 L340.56,215.89 L340.41,216.90 L340.28,217.92 L340.17,218.93 L340.09,219.94 L340.03,220.96 L339.97,221.97 L339.93,222.99 L339.90,224.00 L339.50,224.00 L339.47,222.99 L339.43,221.97 L339.37,220.96 L339.31,219.94 L339.23,218.93 L339.12,217.92 L338.99,216.90 L338.84,215.89 L338.69,214.88 L338.53,213.86 L338.36,212.85 L338.17,211.83 L337.97,210.82 L337.77,209.81 L337.58,208.79 L337.38,207.78 L337.17,206.77 L336.93,205.75 L336.66,204.74 L336.37,203.72 L336.10,202.71 L335.84,201.70 L335.59,200.68 L335.35,199.67 L335.11,198.66 L334.89,197.64 L334.67,196.63 L334.45,195.61 L334.24,194.60 L334.03,193.59 L333.82,192.57 L333.59,191.56 L333.33,190.55 L333.06,189.53 L332.81,188.52 L332.59,187.50 L332.40,186.49 L332.22,185.48 L332.06,184.46 L331.92,183.45 L331.78,182.44 L331.64,181.42 L331.51,180.41 L331.38,179.39 L331.28,178.38 L331.19,177.37 L331.14,176.35 L331.09,175.34 L331.05,174.33 L331.02,173.31 L331.01,172.30 L331.03,171.28 L331.08,170.27 L331.15,169.26 L331.24,168.24 L331.32,167.23 L331.42,166.22 L331.53,165.20 L331.66,164.19 L331.78,163.17 L331.92,162.16 L332.05,161.15 L332.19,160.13 L332.34,159.12 L332.50,158.11 L332.66,157.09 L332.81,156.08 L332.97,155.06 L333.12,154.05 L333.27,153.04 L333.42,152.02 L333.57,151.01 L333.73,150.00 L333.90,148.98 L334.07,147.97 L334.24,146.95 L334.42,145.94 L334.60,144.93 L334.78,143.91 L334.96,142.90 L335.14,141.89 L335.33,140.87 L335.51,139.86 L335.70,138.84 L335.88,137.83 L336.06,136.82 L336.24,135.80 L336.43,134.79 L336.62,133.78 L336.80,132.76 L336.99,131.75 L337.18,130.73 L337.36,129.72 L337.55,128.71 L337.73,127.69 L337.90,126.68 L338.07,125.67 L338.23,124.65 L338.39,123.64 L338.55,122.62 L338.71,121.61 L338.85,120.60 L338.98,119.58 L339.09,118.57 L339.19,117.56 L339.28,116.54 L339.36,115.53 L339.44,114.51 L339.50,113.50 Z" fill="none" stroke="#2f5f85" stroke-width="0.8" stroke-opacity="0.8"/>
<line x1="339.7" y1="134.9" x2="339.7" y2="201" stroke="#000" stroke-width="2"/>
<rect x="333.35" y="155.8" width="12.70" height="27.60" fill="#fff" stroke="#111" stroke-width="1"/>
<rect x="333.35" y="169.90" width="12.70" height="4.6" fill="#000"/>
<line x1="483.5" y1="86.9" x2="483.5" y2="266.8" stroke="#000" stroke-width="1.1"/>
<path d="M483.35,107.30 L483.42,108.58 L483.49,109.86 L483.56,111.14 L483.65,112.43 L483.73,113.71 L483.83,114.99 L483.92,116.27 L484.02,117.55 L484.12,118.83 L484.23,120.12 L484.34,121.40 L484.46,122.68 L484.58,123.96 L484.72,125.24 L484.86,126.52 L485.01,127.81 L485.16,129.09 L485.33,130.37 L485.52,131.65 L485.72,132.93 L485.94,134.21 L486.18,135.50 L486.45,136.78 L486.75,138.06 L487.09,139.34 L487.49,140.62 L487.96,141.90 L488.59,143.19 L489.28,144.47 L489.99,145.75 L490.73,147.03 L491.42,148.31 L492.08,149.59 L492.74,150.88 L493.44,152.16 L494.14,153.44 L494.70,154.72 L495.18,156.00 L495.58,157.28 L495.95,158.57 L496.24,159.85 L496.43,161.13 L496.57,162.41 L496.68,163.69 L496.75,164.97 L496.81,166.26 L496.86,167.54 L496.91,168.82 L496.98,170.10 L497.05,171.38 L497.12,172.66 L497.17,173.95 L497.20,175.23 L497.23,176.51 L497.26,177.79 L497.28,179.07 L497.29,180.35 L497.30,181.64 L497.30,182.92 L497.27,184.20 L497.23,185.48 L497.18,186.76 L497.11,188.04 L497.04,189.33 L496.96,190.61 L496.87,191.89 L496.76,193.17 L496.62,194.45 L496.46,195.73 L496.28,197.02 L496.07,198.30 L495.82,199.58 L495.46,200.86 L494.89,202.14 L494.25,203.42 L493.63,204.71 L493.08,205.99 L492.54,207.27 L492.01,208.55 L491.51,209.83 L491.06,211.11 L490.66,212.40 L490.29,213.68 L489.93,214.96 L489.57,216.24 L489.22,217.52 L488.88,218.80 L488.54,220.09 L488.20,221.37 L487.86,222.65 L487.51,223.93 L487.18,225.21 L486.85,226.49 L486.54,227.78 L486.24,229.06 L485.95,230.34 L485.67,231.62 L485.40,232.90 L485.11,234.18 L484.84,235.47 L484.58,236.75 L484.34,238.03 L484.14,239.31 L483.97,240.59 L483.81,241.87 L483.67,243.16 L483.54,244.44 L483.43,245.72 L483.35,247.00 L482.85,247.00 L482.77,245.72 L482.66,244.44 L482.53,243.16 L482.39,241.87 L482.23,240.59 L482.06,239.31 L481.86,238.03 L481.62,236.75 L481.36,235.47 L481.09,234.18 L480.80,232.90 L480.53,231.62 L480.25,230.34 L479.96,229.06 L479.66,227.78 L479.35,226.49 L479.02,225.21 L478.69,223.93 L478.34,222.65 L478.00,221.37 L477.66,220.09 L477.32,218.80 L476.98,217.52 L476.63,216.24 L476.27,214.96 L475.91,213.68 L475.54,212.40 L475.14,211.11 L474.69,209.83 L474.19,208.55 L473.66,207.27 L473.12,205.99 L472.57,204.71 L471.95,203.42 L471.31,202.14 L470.74,200.86 L470.38,199.58 L470.13,198.30 L469.92,197.02 L469.74,195.73 L469.58,194.45 L469.44,193.17 L469.33,191.89 L469.24,190.61 L469.16,189.33 L469.09,188.04 L469.02,186.76 L468.97,185.48 L468.93,184.20 L468.90,182.92 L468.90,181.64 L468.91,180.35 L468.92,179.07 L468.94,177.79 L468.97,176.51 L469.00,175.23 L469.03,173.95 L469.08,172.66 L469.15,171.38 L469.22,170.10 L469.29,168.82 L469.34,167.54 L469.39,166.26 L469.45,164.97 L469.52,163.69 L469.63,162.41 L469.77,161.13 L469.96,159.85 L470.25,158.57 L470.62,157.28 L471.02,156.00 L471.50,154.72 L472.06,153.44 L472.76,152.16 L473.46,150.88 L474.12,149.59 L474.78,148.31 L475.47,147.03 L476.21,145.75 L476.92,144.47 L477.61,143.19 L478.24,141.90 L478.71,140.62 L479.11,139.34 L479.45,138.06 L479.75,136.78 L480.02,135.50 L480.26,134.21 L480.48,132.93 L480.68,131.65 L480.87,130.37 L481.04,129.09 L481.19,127.81 L481.34,126.52 L481.48,125.24 L481.62,123.96 L481.74,122.68 L481.86,121.40 L481.97,120.12 L482.08,118.83 L482.18,117.55 L482.28,116.27 L482.37,114.99 L482.47,113.71 L482.55,112.43 L482.64,111.14 L482.71,109.86 L482.78,108.58 L482.85,107.30 Z" fill="#A61B2B" stroke="#0a0a0a" stroke-width="1.3" stroke-linejoin="round"/>
<path d="M483.31,107.30 L483.36,108.58 L483.42,109.86 L483.48,111.14 L483.55,112.43 L483.62,113.71 L483.70,114.99 L483.77,116.27 L483.85,117.55 L483.94,118.83 L484.02,120.12 L484.11,121.40 L484.21,122.68 L484.32,123.96 L484.43,125.24 L484.54,126.52 L484.66,127.81 L484.79,129.09 L484.93,130.37 L485.08,131.65 L485.25,132.93 L485.42,134.21 L485.62,135.50 L485.85,136.78 L486.09,138.06 L486.38,139.34 L486.70,140.62 L487.09,141.90 L487.60,143.19 L488.17,144.47 L488.75,145.75 L489.36,147.03 L489.93,148.31 L490.46,149.59 L491.00,150.88 L491.58,152.16 L492.15,153.44 L492.61,154.72 L493.01,156.00 L493.34,157.28 L493.64,158.57 L493.88,159.85 L494.03,161.13 L494.15,162.41 L494.24,163.69 L494.30,164.97 L494.34,166.26 L494.38,167.54 L494.43,168.82 L494.48,170.10 L494.54,171.38 L494.59,172.66 L494.64,173.95 L494.67,175.23 L494.69,176.51 L494.71,177.79 L494.72,179.07 L494.74,180.35 L494.74,181.64 L494.74,182.92 L494.72,184.20 L494.69,185.48 L494.64,186.76 L494.59,188.04 L494.53,189.33 L494.47,190.61 L494.39,191.89 L494.30,193.17 L494.19,194.45 L494.06,195.73 L493.91,197.02 L493.73,198.30 L493.53,199.58 L493.23,200.86 L492.77,202.14 L492.24,203.42 L491.73,204.71 L491.29,205.99 L490.84,207.27 L490.40,208.55 L490.00,209.83 L489.63,211.11 L489.30,212.40 L489.00,213.68 L488.70,214.96 L488.41,216.24 L488.12,217.52 L487.84,218.80 L487.56,220.09 L487.28,221.37 L487.00,222.65 L486.72,223.93 L486.44,225.21 L486.17,226.49 L485.92,227.78 L485.67,229.06 L485.44,230.34 L485.21,231.62 L484.98,232.90 L484.75,234.18 L484.52,235.47 L484.31,236.75 L484.12,238.03 L483.95,239.31 L483.81,240.59 L483.68,241.87 L483.57,243.16 L483.46,244.44 L483.37,245.72 L483.31,247.00 L482.90,247.00 L482.83,245.72 L482.74,244.44 L482.63,243.16 L482.52,241.87 L482.39,240.59 L482.25,239.31 L482.08,238.03 L481.89,236.75 L481.68,235.47 L481.45,234.18 L481.22,232.90 L480.99,231.62 L480.76,230.34 L480.53,229.06 L480.28,227.78 L480.03,226.49 L479.76,225.21 L479.48,223.93 L479.20,222.65 L478.92,221.37 L478.64,220.09 L478.36,218.80 L478.08,217.52 L477.79,216.24 L477.50,214.96 L477.20,213.68 L476.90,212.40 L476.57,211.11 L476.20,209.83 L475.80,208.55 L475.36,207.27 L474.91,205.99 L474.47,204.71 L473.96,203.42 L473.43,202.14 L472.97,200.86 L472.67,199.58 L472.47,198.30 L472.29,197.02 L472.14,195.73 L472.01,194.45 L471.90,193.17 L471.81,191.89 L471.73,190.61 L471.67,189.33 L471.61,188.04 L471.56,186.76 L471.51,185.48 L471.48,184.20 L471.46,182.92 L471.46,181.64 L471.46,180.35 L471.48,179.07 L471.49,177.79 L471.51,176.51 L471.53,175.23 L471.56,173.95 L471.61,172.66 L471.66,171.38 L471.72,170.10 L471.77,168.82 L471.82,167.54 L471.86,166.26 L471.90,164.97 L471.96,163.69 L472.05,162.41 L472.17,161.13 L472.32,159.85 L472.56,158.57 L472.86,157.28 L473.19,156.00 L473.59,154.72 L474.05,153.44 L474.62,152.16 L475.20,150.88 L475.74,149.59 L476.27,148.31 L476.84,147.03 L477.45,145.75 L478.03,144.47 L478.60,143.19 L479.11,141.90 L479.50,140.62 L479.82,139.34 L480.11,138.06 L480.35,136.78 L480.58,135.50 L480.78,134.21 L480.95,132.93 L481.12,131.65 L481.27,130.37 L481.41,129.09 L481.54,127.81 L481.66,126.52 L481.77,125.24 L481.88,123.96 L481.99,122.68 L482.09,121.40 L482.18,120.12 L482.26,118.83 L482.35,117.55 L482.43,116.27 L482.50,114.99 L482.58,113.71 L482.65,112.43 L482.72,111.14 L482.78,109.86 L482.84,108.58 L482.90,107.30 Z" fill="none" stroke="#5c0a14" stroke-width="0.8" stroke-opacity="0.8"/>
<line x1="483.1" y1="113.6" x2="483.1" y2="241" stroke="#000" stroke-width="2"/>
<rect x="474.55" y="163.2" width="17.10" height="35.30" fill="#fff" stroke="#111" stroke-width="1"/>
<rect x="474.55" y="180.30" width="17.10" height="4.6" fill="#000"/>
<line x1="530.5" y1="84.4" x2="530.5" y2="293.4" stroke="#000" stroke-width="1.1"/>
<path d="M531.15,107.30 L531.17,108.72 L531.21,110.14 L531.25,111.56 L531.30,112.98 L531.35,114.40 L531.41,115.82 L531.48,117.23 L531.54,118.65 L531.61,120.07 L531.69,121.49 L531.78,122.91 L531.88,124.33 L531.99,125.75 L532.11,127.17 L532.24,128.59 L532.38,130.01 L532.52,131.43 L532.67,132.85 L532.84,134.27 L533.04,135.69 L533.25,137.10 L533.48,138.52 L533.71,139.94 L533.95,141.36 L534.19,142.78 L534.42,144.20 L534.65,145.62 L534.88,147.04 L535.12,148.46 L535.36,149.88 L535.61,151.30 L535.85,152.72 L536.09,154.14 L536.34,155.56 L536.58,156.97 L536.81,158.39 L537.04,159.81 L537.26,161.23 L537.49,162.65 L537.71,164.07 L537.95,165.49 L538.19,166.91 L538.45,168.33 L538.73,169.75 L539.07,171.17 L539.46,172.59 L539.86,174.01 L540.23,175.42 L540.53,176.84 L540.74,178.26 L540.94,179.68 L541.13,181.10 L541.31,182.52 L541.47,183.94 L541.60,185.36 L541.70,186.78 L541.77,188.20 L541.80,189.62 L541.79,191.04 L541.76,192.46 L541.70,193.88 L541.63,195.29 L541.54,196.71 L541.44,198.13 L541.33,199.55 L541.21,200.97 L541.08,202.39 L540.92,203.81 L540.70,205.23 L540.44,206.65 L540.16,208.07 L539.86,209.49 L539.56,210.91 L539.22,212.33 L538.85,213.74 L538.48,215.16 L538.12,216.58 L537.75,218.00 L537.39,219.42 L537.04,220.84 L536.70,222.26 L536.38,223.68 L536.06,225.10 L535.74,226.52 L535.39,227.94 L535.03,229.36 L534.67,230.78 L534.35,232.20 L534.04,233.61 L533.74,235.03 L533.45,236.45 L533.19,237.87 L532.95,239.29 L532.73,240.71 L532.53,242.13 L532.33,243.55 L532.16,244.97 L532.00,246.39 L531.85,247.81 L531.71,249.23 L531.59,250.65 L531.50,252.07 L531.42,253.48 L531.35,254.90 L531.29,256.32 L531.23,257.74 L531.19,259.16 L531.16,260.58 L531.15,262.00 L530.65,262.00 L530.64,260.58 L530.61,259.16 L530.57,257.74 L530.51,256.32 L530.45,254.90 L530.38,253.48 L530.30,252.07 L530.21,250.65 L530.09,249.23 L529.95,247.81 L529.80,246.39 L529.64,244.97 L529.47,243.55 L529.27,242.13 L529.07,240.71 L528.85,239.29 L528.61,237.87 L528.35,236.45 L528.06,235.03 L527.76,233.61 L527.45,232.20 L527.13,230.78 L526.77,229.36 L526.41,227.94 L526.06,226.52 L525.74,225.10 L525.42,223.68 L525.10,222.26 L524.76,220.84 L524.41,219.42 L524.05,218.00 L523.68,216.58 L523.32,215.16 L522.95,213.74 L522.58,212.33 L522.24,210.91 L521.94,209.49 L521.64,208.07 L521.36,206.65 L521.10,205.23 L520.88,203.81 L520.72,202.39 L520.59,200.97 L520.47,199.55 L520.36,198.13 L520.26,196.71 L520.17,195.29 L520.10,193.88 L520.04,192.46 L520.01,191.04 L520.00,189.62 L520.03,188.20 L520.10,186.78 L520.20,185.36 L520.33,183.94 L520.49,182.52 L520.67,181.10 L520.86,179.68 L521.06,178.26 L521.27,176.84 L521.57,175.42 L521.94,174.01 L522.34,172.59 L522.73,171.17 L523.07,169.75 L523.35,168.33 L523.61,166.91 L523.85,165.49 L524.09,164.07 L524.31,162.65 L524.54,161.23 L524.76,159.81 L524.99,158.39 L525.22,156.97 L525.46,155.56 L525.71,154.14 L525.95,152.72 L526.19,151.30 L526.44,149.88 L526.68,148.46 L526.92,147.04 L527.15,145.62 L527.38,144.20 L527.61,142.78 L527.85,141.36 L528.09,139.94 L528.32,138.52 L528.55,137.10 L528.76,135.69 L528.96,134.27 L529.13,132.85 L529.28,131.43 L529.42,130.01 L529.56,128.59 L529.69,127.17 L529.81,125.75 L529.92,124.33 L530.02,122.91 L530.11,121.49 L530.19,120.07 L530.26,118.65 L530.32,117.23 L530.39,115.82 L530.45,114.40 L530.50,112.98 L530.55,111.56 L530.59,110.14 L530.63,108.72 L530.65,107.30 Z" fill="#E9623E" stroke="#0a0a0a" stroke-width="1.3" stroke-linejoin="round"/>
<path d="M531.11,107.30 L531.12,108.72 L531.15,110.14 L531.19,111.56 L531.23,112.98 L531.27,114.40 L531.32,115.82 L531.37,117.23 L531.43,118.65 L531.49,120.07 L531.55,121.49 L531.62,122.91 L531.71,124.33 L531.80,125.75 L531.89,127.17 L532.00,128.59 L532.11,130.01 L532.23,131.43 L532.35,132.85 L532.49,134.27 L532.65,135.69 L532.83,137.10 L533.01,138.52 L533.20,139.94 L533.40,141.36 L533.59,142.78 L533.79,144.20 L533.97,145.62 L534.17,147.04 L534.36,148.46 L534.56,149.88 L534.76,151.30 L534.96,152.72 L535.16,154.14 L535.36,155.56 L535.56,156.97 L535.75,158.39 L535.94,159.81 L536.12,161.23 L536.30,162.65 L536.49,164.07 L536.68,165.49 L536.88,166.91 L537.09,168.33 L537.32,169.75 L537.60,171.17 L537.92,172.59 L538.25,174.01 L538.55,175.42 L538.80,176.84 L538.97,178.26 L539.13,179.68 L539.29,181.10 L539.43,182.52 L539.56,183.94 L539.67,185.36 L539.76,186.78 L539.81,188.20 L539.84,189.62 L539.83,191.04 L539.80,192.46 L539.76,193.88 L539.70,195.29 L539.63,196.71 L539.54,198.13 L539.45,199.55 L539.35,200.97 L539.25,202.39 L539.11,203.81 L538.94,205.23 L538.72,206.65 L538.49,208.07 L538.25,209.49 L538.00,210.91 L537.72,212.33 L537.42,213.74 L537.12,215.16 L536.82,216.58 L536.52,218.00 L536.22,219.42 L535.93,220.84 L535.66,222.26 L535.40,223.68 L535.13,225.10 L534.87,226.52 L534.58,227.94 L534.28,229.36 L533.99,230.78 L533.73,232.20 L533.47,233.61 L533.23,235.03 L532.99,236.45 L532.78,237.87 L532.58,239.29 L532.40,240.71 L532.23,242.13 L532.08,243.55 L531.93,244.97 L531.80,246.39 L531.68,247.81 L531.56,249.23 L531.46,250.65 L531.39,252.07 L531.33,253.48 L531.27,254.90 L531.22,256.32 L531.17,257.74 L531.14,259.16 L531.11,260.58 L531.11,262.00 L530.69,262.00 L530.69,260.58 L530.66,259.16 L530.63,257.74 L530.58,256.32 L530.53,254.90 L530.47,253.48 L530.41,252.07 L530.34,250.65 L530.24,249.23 L530.12,247.81 L530.00,246.39 L529.87,244.97 L529.72,243.55 L529.57,242.13 L529.40,240.71 L529.22,239.29 L529.02,237.87 L528.81,236.45 L528.57,235.03 L528.33,233.61 L528.07,232.20 L527.81,230.78 L527.52,229.36 L527.22,227.94 L526.93,226.52 L526.67,225.10 L526.40,223.68 L526.14,222.26 L525.87,220.84 L525.58,219.42 L525.28,218.00 L524.98,216.58 L524.68,215.16 L524.38,213.74 L524.08,212.33 L523.80,210.91 L523.55,209.49 L523.31,208.07 L523.08,206.65 L522.86,205.23 L522.69,203.81 L522.55,202.39 L522.45,200.97 L522.35,199.55 L522.26,198.13 L522.17,196.71 L522.10,195.29 L522.04,193.88 L522.00,192.46 L521.97,191.04 L521.96,189.62 L521.99,188.20 L522.04,186.78 L522.13,185.36 L522.24,183.94 L522.37,182.52 L522.51,181.10 L522.67,179.68 L522.83,178.26 L523.00,176.84 L523.25,175.42 L523.55,174.01 L523.88,172.59 L524.20,171.17 L524.48,169.75 L524.71,168.33 L524.92,166.91 L525.12,165.49 L525.31,164.07 L525.50,162.65 L525.68,161.23 L525.86,159.81 L526.05,158.39 L526.24,156.97 L526.44,155.56 L526.64,154.14 L526.84,152.72 L527.04,151.30 L527.24,149.88 L527.44,148.46 L527.63,147.04 L527.83,145.62 L528.01,144.20 L528.21,142.78 L528.40,141.36 L528.60,139.94 L528.79,138.52 L528.97,137.10 L529.15,135.69 L529.31,134.27 L529.45,132.85 L529.57,131.43 L529.69,130.01 L529.80,128.59 L529.91,127.17 L530.00,125.75 L530.09,124.33 L530.18,122.91 L530.25,121.49 L530.31,120.07 L530.37,118.65 L530.43,117.23 L530.48,115.82 L530.53,114.40 L530.57,112.98 L530.61,111.56 L530.65,110.14 L530.68,108.72 L530.69,107.30 Z" fill="none" stroke="#7a2a12" stroke-width="0.8" stroke-opacity="0.8"/>
<line x1="530.9" y1="119.8" x2="530.9" y2="257.3" stroke="#000" stroke-width="2"/>
<rect x="523.85" y="167.9" width="14.10" height="41.10" fill="#fff" stroke="#111" stroke-width="1"/>
<rect x="523.85" y="187.50" width="14.10" height="4.6" fill="#000"/>
<line x1="578.5" y1="89.4" x2="578.5" y2="317.5" stroke="#000" stroke-width="1.1"/>
<path d="M579.15,112.00 L579.20,113.67 L579.26,115.34 L579.33,117.01 L579.41,118.68 L579.50,120.35 L579.60,122.02 L579.71,123.69 L579.84,125.36 L579.99,127.03 L580.14,128.70 L580.31,130.37 L580.48,132.04 L580.67,133.71 L580.87,135.38 L581.08,137.05 L581.31,138.72 L581.54,140.39 L581.78,142.06 L582.02,143.72 L582.28,145.39 L582.55,147.06 L582.82,148.73 L583.09,150.40 L583.35,152.07 L583.60,153.74 L583.84,155.41 L584.08,157.08 L584.31,158.75 L584.54,160.42 L584.77,162.09 L585.01,163.76 L585.25,165.43 L585.50,167.10 L585.74,168.77 L585.97,170.44 L586.17,172.11 L586.33,173.78 L586.47,175.45 L586.59,177.12 L586.71,178.79 L586.81,180.46 L586.91,182.13 L587.01,183.80 L587.12,185.47 L587.21,187.14 L587.28,188.81 L587.31,190.48 L587.33,192.15 L587.35,193.82 L587.37,195.49 L587.38,197.16 L587.39,198.83 L587.40,200.50 L587.40,202.17 L587.39,203.83 L587.37,205.50 L587.34,207.17 L587.29,208.84 L587.24,210.51 L587.19,212.18 L587.13,213.85 L587.07,215.52 L586.99,217.19 L586.90,218.86 L586.79,220.53 L586.67,222.20 L586.55,223.87 L586.42,225.54 L586.29,227.21 L586.16,228.88 L586.01,230.55 L585.86,232.22 L585.69,233.89 L585.53,235.56 L585.35,237.23 L585.17,238.90 L585.00,240.57 L584.82,242.24 L584.64,243.91 L584.45,245.58 L584.25,247.25 L584.04,248.92 L583.81,250.59 L583.56,252.26 L583.24,253.93 L582.86,255.60 L582.47,257.27 L582.14,258.94 L581.89,260.61 L581.68,262.28 L581.48,263.94 L581.31,265.61 L581.15,267.28 L580.99,268.95 L580.84,270.62 L580.69,272.29 L580.54,273.96 L580.40,275.63 L580.26,277.30 L580.12,278.97 L579.99,280.64 L579.87,282.31 L579.75,283.98 L579.64,285.65 L579.53,287.32 L579.43,288.99 L579.33,290.66 L579.24,292.33 L579.15,294.00 L578.65,294.00 L578.56,292.33 L578.47,290.66 L578.37,288.99 L578.27,287.32 L578.16,285.65 L578.05,283.98 L577.93,282.31 L577.81,280.64 L577.68,278.97 L577.54,277.30 L577.40,275.63 L577.26,273.96 L577.11,272.29 L576.96,270.62 L576.81,268.95 L576.65,267.28 L576.49,265.61 L576.32,263.94 L576.12,262.28 L575.91,260.61 L575.66,258.94 L575.33,257.27 L574.94,255.60 L574.56,253.93 L574.24,252.26 L573.99,250.59 L573.76,248.92 L573.55,247.25 L573.35,245.58 L573.16,243.91 L572.98,242.24 L572.80,240.57 L572.63,238.90 L572.45,237.23 L572.27,235.56 L572.11,233.89 L571.94,232.22 L571.79,230.55 L571.64,228.88 L571.51,227.21 L571.38,225.54 L571.25,223.87 L571.13,222.20 L571.01,220.53 L570.90,218.86 L570.81,217.19 L570.73,215.52 L570.67,213.85 L570.61,212.18 L570.56,210.51 L570.51,208.84 L570.46,207.17 L570.43,205.50 L570.41,203.83 L570.40,202.17 L570.40,200.50 L570.41,198.83 L570.42,197.16 L570.43,195.49 L570.45,193.82 L570.47,192.15 L570.49,190.48 L570.52,188.81 L570.59,187.14 L570.68,185.47 L570.79,183.80 L570.89,182.13 L570.99,180.46 L571.09,178.79 L571.21,177.12 L571.33,175.45 L571.47,173.78 L571.63,172.11 L571.83,170.44 L572.06,168.77 L572.30,167.10 L572.55,165.43 L572.79,163.76 L573.03,162.09 L573.26,160.42 L573.49,158.75 L573.72,157.08 L573.96,155.41 L574.20,153.74 L574.45,152.07 L574.71,150.40 L574.98,148.73 L575.25,147.06 L575.52,145.39 L575.78,143.72 L576.02,142.06 L576.26,140.39 L576.49,138.72 L576.72,137.05 L576.93,135.38 L577.13,133.71 L577.32,132.04 L577.49,130.37 L577.66,128.70 L577.81,127.03 L577.96,125.36 L578.09,123.69 L578.20,122.02 L578.30,120.35 L578.39,118.68 L578.47,117.01 L578.54,115.34 L578.60,113.67 L578.65,112.00 Z" fill="#F0B666" stroke="#0a0a0a" stroke-width="1.3" stroke-linejoin="round"/>
<path d="M579.11,112.00 L579.14,113.67 L579.19,115.34 L579.25,117.01 L579.32,118.68 L579.40,120.35 L579.47,122.02 L579.57,123.69 L579.67,125.36 L579.79,127.03 L579.92,128.70 L580.06,130.37 L580.20,132.04 L580.35,133.71 L580.51,135.38 L580.69,137.05 L580.88,138.72 L581.07,140.39 L581.26,142.06 L581.46,143.72 L581.68,145.39 L581.90,147.06 L582.12,148.73 L582.34,150.40 L582.55,152.07 L582.75,153.74 L582.95,155.41 L583.15,157.08 L583.34,158.75 L583.53,160.42 L583.72,162.09 L583.91,163.76 L584.11,165.43 L584.31,167.10 L584.51,168.77 L584.70,170.44 L584.86,172.11 L585.00,173.78 L585.11,175.45 L585.21,177.12 L585.30,178.79 L585.38,180.46 L585.47,182.13 L585.55,183.80 L585.64,185.47 L585.71,187.14 L585.77,188.81 L585.80,190.48 L585.81,192.15 L585.83,193.82 L585.84,195.49 L585.86,197.16 L585.86,198.83 L585.87,200.50 L585.87,202.17 L585.86,203.83 L585.85,205.50 L585.82,207.17 L585.78,208.84 L585.74,210.51 L585.70,212.18 L585.65,213.85 L585.60,215.52 L585.53,217.19 L585.46,218.86 L585.37,220.53 L585.27,222.20 L585.17,223.87 L585.07,225.54 L584.96,227.21 L584.85,228.88 L584.73,230.55 L584.60,232.22 L584.47,233.89 L584.33,235.56 L584.19,237.23 L584.05,238.90 L583.90,240.57 L583.75,242.24 L583.61,243.91 L583.45,245.58 L583.29,247.25 L583.12,248.92 L582.93,250.59 L582.72,252.26 L582.46,253.93 L582.15,255.60 L581.83,257.27 L581.56,258.94 L581.35,260.61 L581.18,262.28 L581.02,263.94 L580.88,265.61 L580.74,267.28 L580.62,268.95 L580.49,270.62 L580.37,272.29 L580.25,273.96 L580.13,275.63 L580.01,277.30 L579.90,278.97 L579.80,280.64 L579.69,282.31 L579.60,283.98 L579.50,285.65 L579.42,287.32 L579.33,288.99 L579.25,290.66 L579.18,292.33 L579.11,294.00 L578.69,294.00 L578.62,292.33 L578.55,290.66 L578.47,288.99 L578.38,287.32 L578.30,285.65 L578.20,283.98 L578.11,282.31 L578.00,280.64 L577.90,278.97 L577.79,277.30 L577.67,275.63 L577.55,273.96 L577.43,272.29 L577.31,270.62 L577.18,268.95 L577.06,267.28 L576.92,265.61 L576.78,263.94 L576.62,262.28 L576.45,260.61 L576.24,258.94 L575.97,257.27 L575.65,255.60 L575.34,253.93 L575.08,252.26 L574.87,250.59 L574.68,248.92 L574.51,247.25 L574.35,245.58 L574.19,243.91 L574.05,242.24 L573.90,240.57 L573.75,238.90 L573.61,237.23 L573.47,235.56 L573.33,233.89 L573.20,232.22 L573.07,230.55 L572.95,228.88 L572.84,227.21 L572.73,225.54 L572.63,223.87 L572.53,222.20 L572.43,220.53 L572.34,218.86 L572.27,217.19 L572.20,215.52 L572.15,213.85 L572.10,212.18 L572.06,210.51 L572.02,208.84 L571.98,207.17 L571.95,205.50 L571.94,203.83 L571.93,202.17 L571.93,200.50 L571.94,198.83 L571.94,197.16 L571.96,195.49 L571.97,193.82 L571.99,192.15 L572.00,190.48 L572.03,188.81 L572.09,187.14 L572.16,185.47 L572.25,183.80 L572.33,182.13 L572.42,180.46 L572.50,178.79 L572.59,177.12 L572.69,175.45 L572.80,173.78 L572.94,172.11 L573.10,170.44 L573.29,168.77 L573.49,167.10 L573.69,165.43 L573.89,163.76 L574.08,162.09 L574.27,160.42 L574.46,158.75 L574.65,157.08 L574.85,155.41 L575.05,153.74 L575.25,152.07 L575.46,150.40 L575.68,148.73 L575.90,147.06 L576.12,145.39 L576.34,143.72 L576.54,142.06 L576.73,140.39 L576.92,138.72 L577.11,137.05 L577.29,135.38 L577.45,133.71 L577.60,132.04 L577.74,130.37 L577.88,128.70 L578.01,127.03 L578.13,125.36 L578.23,123.69 L578.33,122.02 L578.40,120.35 L578.48,118.68 L578.55,117.01 L578.61,115.34 L578.66,113.67 L578.69,112.00 Z" fill="none" stroke="#8a5a1a" stroke-width="0.8" stroke-opacity="0.8"/>
<line x1="578.9" y1="161.0" x2="578.9" y2="246.1" stroke="#000" stroke-width="2"/>
<rect x="573.25" y="178.6" width="11.30" height="48.40" fill="#fff" stroke="#111" stroke-width="1"/>
<rect x="573.25" y="196.90" width="11.30" height="4.6" fill="#000"/>
<line x1="627.5" y1="121.8" x2="627.5" y2="249.0" stroke="#000" stroke-width="1.1"/>
<path d="M627.25,141.00 L627.31,141.98 L627.39,142.96 L627.49,143.94 L627.60,144.93 L627.73,145.91 L627.87,146.89 L628.01,147.87 L628.16,148.85 L628.32,149.83 L628.50,150.82 L628.71,151.80 L628.94,152.78 L629.18,153.76 L629.44,154.74 L629.71,155.72 L629.99,156.71 L630.27,157.69 L630.58,158.67 L630.91,159.65 L631.25,160.63 L631.60,161.61 L631.95,162.60 L632.28,163.58 L632.60,164.56 L632.89,165.54 L633.15,166.52 L633.41,167.50 L633.67,168.49 L633.96,169.47 L634.28,170.45 L634.65,171.43 L635.04,172.41 L635.44,173.39 L635.84,174.38 L636.23,175.36 L636.59,176.34 L636.91,177.32 L637.19,178.30 L637.44,179.28 L637.69,180.27 L637.92,181.25 L638.16,182.23 L638.40,183.21 L638.64,184.19 L638.86,185.17 L639.02,186.16 L639.17,187.14 L639.29,188.12 L639.38,189.10 L639.40,190.08 L639.37,191.06 L639.31,192.05 L639.22,193.03 L639.12,194.01 L639.01,194.99 L638.90,195.97 L638.79,196.95 L638.66,197.94 L638.51,198.92 L638.35,199.90 L638.17,200.88 L637.97,201.86 L637.75,202.84 L637.46,203.83 L637.14,204.81 L636.81,205.79 L636.49,206.77 L636.20,207.75 L635.93,208.73 L635.67,209.72 L635.41,210.70 L635.16,211.68 L634.91,212.66 L634.66,213.64 L634.42,214.62 L634.18,215.61 L633.95,216.59 L633.72,217.57 L633.50,218.55 L633.27,219.53 L633.05,220.51 L632.82,221.50 L632.58,222.48 L632.34,223.46 L632.08,224.44 L631.83,225.42 L631.58,226.40 L631.33,227.39 L631.08,228.37 L630.83,229.35 L630.58,230.33 L630.34,231.31 L630.10,232.29 L629.86,233.28 L629.64,234.26 L629.43,235.24 L629.23,236.22 L629.04,237.20 L628.86,238.18 L628.68,239.17 L628.50,240.15 L628.30,241.13 L628.10,242.11 L627.92,243.09 L627.74,244.07 L627.59,245.06 L627.46,246.04 L627.35,247.02 L627.25,248.00 L626.75,248.00 L626.65,247.02 L626.54,246.04 L626.41,245.06 L626.26,244.07 L626.08,243.09 L625.90,242.11 L625.70,241.13 L625.50,240.15 L625.32,239.17 L625.14,238.18 L624.96,237.20 L624.77,236.22 L624.57,235.24 L624.36,234.26 L624.14,233.28 L623.90,232.29 L623.66,231.31 L623.42,230.33 L623.17,229.35 L622.92,228.37 L622.67,227.39 L622.42,226.40 L622.17,225.42 L621.92,224.44 L621.66,223.46 L621.42,222.48 L621.18,221.50 L620.95,220.51 L620.73,219.53 L620.50,218.55 L620.28,217.57 L620.05,216.59 L619.82,215.61 L619.58,214.62 L619.34,213.64 L619.09,212.66 L618.84,211.68 L618.59,210.70 L618.33,209.72 L618.07,208.73 L617.80,207.75 L617.51,206.77 L617.19,205.79 L616.86,204.81 L616.54,203.83 L616.25,202.84 L616.03,201.86 L615.83,200.88 L615.65,199.90 L615.49,198.92 L615.34,197.94 L615.21,196.95 L615.10,195.97 L614.99,194.99 L614.88,194.01 L614.78,193.03 L614.69,192.05 L614.63,191.06 L614.60,190.08 L614.62,189.10 L614.71,188.12 L614.83,187.14 L614.98,186.16 L615.14,185.17 L615.36,184.19 L615.60,183.21 L615.84,182.23 L616.08,181.25 L616.31,180.27 L616.56,179.28 L616.81,178.30 L617.09,177.32 L617.41,176.34 L617.77,175.36 L618.16,174.38 L618.56,173.39 L618.96,172.41 L619.35,171.43 L619.72,170.45 L620.04,169.47 L620.33,168.49 L620.59,167.50 L620.85,166.52 L621.11,165.54 L621.40,164.56 L621.72,163.58 L622.05,162.60 L622.40,161.61 L622.75,160.63 L623.09,159.65 L623.42,158.67 L623.73,157.69 L624.01,156.71 L624.29,155.72 L624.56,154.74 L624.82,153.76 L625.06,152.78 L625.29,151.80 L625.50,150.82 L625.68,149.83 L625.84,148.85 L625.99,147.87 L626.13,146.89 L626.27,145.91 L626.40,144.93 L626.51,143.94 L626.61,142.96 L626.69,141.98 L626.75,141.00 Z" fill="#7BB2D6" stroke="#0a0a0a" stroke-width="1.3" stroke-linejoin="round"/>
<path d="M627.21,141.00 L627.26,141.98 L627.32,142.96 L627.40,143.94 L627.50,144.93 L627.60,145.91 L627.71,146.89 L627.83,147.87 L627.95,148.85 L628.08,149.83 L628.23,150.82 L628.40,151.80 L628.59,152.78 L628.79,153.76 L629.00,154.74 L629.23,155.72 L629.45,156.71 L629.68,157.69 L629.93,158.67 L630.21,159.65 L630.49,160.63 L630.77,161.61 L631.05,162.60 L631.33,163.58 L631.59,164.56 L631.83,165.54 L632.04,166.52 L632.25,167.50 L632.47,168.49 L632.71,169.47 L632.97,170.45 L633.27,171.43 L633.59,172.41 L633.92,173.39 L634.25,174.38 L634.57,175.36 L634.86,176.34 L635.12,177.32 L635.35,178.30 L635.56,179.28 L635.76,180.27 L635.96,181.25 L636.15,182.23 L636.35,183.21 L636.55,184.19 L636.72,185.17 L636.86,186.16 L636.98,187.14 L637.08,188.12 L637.15,189.10 L637.17,190.08 L637.14,191.06 L637.09,192.05 L637.02,193.03 L636.94,194.01 L636.85,194.99 L636.76,195.97 L636.67,196.95 L636.56,197.94 L636.44,198.92 L636.31,199.90 L636.16,200.88 L636.00,201.86 L635.81,202.84 L635.58,203.83 L635.32,204.81 L635.04,205.79 L634.78,206.77 L634.54,207.75 L634.32,208.73 L634.11,209.72 L633.89,210.70 L633.69,211.68 L633.48,212.66 L633.28,213.64 L633.08,214.62 L632.89,215.61 L632.70,216.59 L632.51,217.57 L632.33,218.55 L632.15,219.53 L631.96,220.51 L631.77,221.50 L631.58,222.48 L631.37,223.46 L631.17,224.44 L630.96,225.42 L630.75,226.40 L630.55,227.39 L630.35,228.37 L630.14,229.35 L629.94,230.33 L629.74,231.31 L629.54,232.29 L629.35,233.28 L629.16,234.26 L628.99,235.24 L628.83,236.22 L628.68,237.20 L628.53,238.18 L628.38,239.17 L628.23,240.15 L628.07,241.13 L627.91,242.11 L627.75,243.09 L627.61,244.07 L627.49,245.06 L627.38,246.04 L627.29,247.02 L627.21,248.00 L626.79,248.00 L626.71,247.02 L626.62,246.04 L626.51,245.06 L626.39,244.07 L626.25,243.09 L626.09,242.11 L625.93,241.13 L625.77,240.15 L625.62,239.17 L625.47,238.18 L625.32,237.20 L625.17,236.22 L625.01,235.24 L624.84,234.26 L624.65,233.28 L624.46,232.29 L624.26,231.31 L624.06,230.33 L623.86,229.35 L623.65,228.37 L623.45,227.39 L623.25,226.40 L623.04,225.42 L622.83,224.44 L622.63,223.46 L622.42,222.48 L622.23,221.50 L622.04,220.51 L621.85,219.53 L621.67,218.55 L621.49,217.57 L621.30,216.59 L621.11,215.61 L620.92,214.62 L620.72,213.64 L620.52,212.66 L620.31,211.68 L620.11,210.70 L619.89,209.72 L619.68,208.73 L619.46,207.75 L619.22,206.77 L618.96,205.79 L618.68,204.81 L618.42,203.83 L618.19,202.84 L618.00,201.86 L617.84,200.88 L617.69,199.90 L617.56,198.92 L617.44,197.94 L617.33,196.95 L617.24,195.97 L617.15,194.99 L617.06,194.01 L616.98,193.03 L616.91,192.05 L616.86,191.06 L616.83,190.08 L616.85,189.10 L616.92,188.12 L617.02,187.14 L617.14,186.16 L617.28,185.17 L617.45,184.19 L617.65,183.21 L617.85,182.23 L618.04,181.25 L618.24,180.27 L618.44,179.28 L618.65,178.30 L618.88,177.32 L619.14,176.34 L619.43,175.36 L619.75,174.38 L620.08,173.39 L620.41,172.41 L620.73,171.43 L621.03,170.45 L621.29,169.47 L621.53,168.49 L621.75,167.50 L621.96,166.52 L622.17,165.54 L622.41,164.56 L622.67,163.58 L622.95,162.60 L623.23,161.61 L623.51,160.63 L623.79,159.65 L624.07,158.67 L624.32,157.69 L624.55,156.71 L624.77,155.72 L625.00,154.74 L625.21,153.76 L625.41,152.78 L625.60,151.80 L625.77,150.82 L625.92,149.83 L626.05,148.85 L626.17,147.87 L626.29,146.89 L626.40,145.91 L626.50,144.93 L626.60,143.94 L626.68,142.96 L626.74,141.98 L626.79,141.00 Z" fill="none" stroke="#2f5f85" stroke-width="0.8" stroke-opacity="0.8"/>
<line x1="627.0" y1="147" x2="627.0" y2="245" stroke="#000" stroke-width="2"/>
<rect x="619.65" y="177.8" width="14.70" height="27.70" fill="#fff" stroke="#111" stroke-width="1"/>
<rect x="619.65" y="189.10" width="14.70" height="4.6" fill="#000"/>
<line x1="627.0" y1="256.5" x2="627.0" y2="277.7" stroke="#111" stroke-width="1"/>
<line x1="770.5" y1="80.5" x2="770.5" y2="310.1" stroke="#000" stroke-width="1.1"/>
<path d="M770.85,106.00 L770.93,107.58 L771.01,109.16 L771.11,110.73 L771.21,112.31 L771.33,113.89 L771.45,115.47 L771.57,117.05 L771.70,118.62 L771.84,120.20 L771.99,121.78 L772.16,123.36 L772.34,124.94 L772.53,126.51 L772.72,128.09 L772.91,129.67 L773.09,131.25 L773.27,132.83 L773.43,134.40 L773.59,135.98 L773.75,137.56 L773.91,139.14 L774.07,140.72 L774.24,142.29 L774.41,143.87 L774.58,145.45 L774.77,147.03 L774.96,148.61 L775.15,150.18 L775.34,151.76 L775.54,153.34 L775.73,154.92 L775.93,156.50 L776.12,158.07 L776.31,159.65 L776.50,161.23 L776.69,162.81 L776.87,164.39 L777.06,165.96 L777.25,167.54 L777.44,169.12 L777.63,170.70 L777.83,172.28 L778.02,173.85 L778.22,175.43 L778.41,177.01 L778.61,178.59 L778.79,180.17 L778.97,181.74 L779.16,183.32 L779.35,184.90 L779.54,186.48 L779.69,188.06 L779.79,189.63 L779.85,191.21 L779.89,192.79 L779.93,194.37 L779.97,195.94 L779.99,197.52 L780.00,199.10 L780.00,200.68 L779.97,202.26 L779.92,203.83 L779.86,205.41 L779.78,206.99 L779.70,208.57 L779.60,210.15 L779.50,211.72 L779.39,213.30 L779.29,214.88 L779.17,216.46 L779.03,218.04 L778.86,219.61 L778.69,221.19 L778.51,222.77 L778.32,224.35 L778.13,225.93 L777.95,227.50 L777.78,229.08 L777.59,230.66 L777.41,232.24 L777.22,233.82 L777.03,235.39 L776.83,236.97 L776.63,238.55 L776.43,240.13 L776.24,241.71 L776.05,243.28 L775.86,244.86 L775.66,246.44 L775.45,248.02 L775.21,249.60 L774.95,251.17 L774.64,252.75 L774.20,254.33 L773.74,255.91 L773.36,257.49 L773.06,259.06 L772.77,260.64 L772.51,262.22 L772.26,263.80 L772.03,265.38 L771.82,266.95 L771.64,268.53 L771.47,270.11 L771.32,271.69 L771.17,273.27 L771.05,274.84 L770.94,276.42 L770.85,278.00 L770.35,278.00 L770.26,276.42 L770.15,274.84 L770.03,273.27 L769.88,271.69 L769.73,270.11 L769.56,268.53 L769.38,266.95 L769.17,265.38 L768.94,263.80 L768.69,262.22 L768.43,260.64 L768.14,259.06 L767.84,257.49 L767.46,255.91 L767.00,254.33 L766.56,252.75 L766.25,251.17 L765.99,249.60 L765.75,248.02 L765.54,246.44 L765.34,244.86 L765.15,243.28 L764.96,241.71 L764.77,240.13 L764.57,238.55 L764.37,236.97 L764.17,235.39 L763.98,233.82 L763.79,232.24 L763.61,230.66 L763.42,229.08 L763.25,227.50 L763.07,225.93 L762.88,224.35 L762.69,222.77 L762.51,221.19 L762.34,219.61 L762.17,218.04 L762.03,216.46 L761.91,214.88 L761.81,213.30 L761.70,211.72 L761.60,210.15 L761.50,208.57 L761.42,206.99 L761.34,205.41 L761.28,203.83 L761.23,202.26 L761.20,200.68 L761.20,199.10 L761.21,197.52 L761.23,195.94 L761.27,194.37 L761.31,192.79 L761.35,191.21 L761.41,189.63 L761.51,188.06 L761.66,186.48 L761.85,184.90 L762.04,183.32 L762.23,181.74 L762.41,180.17 L762.59,178.59 L762.79,177.01 L762.98,175.43 L763.18,173.85 L763.37,172.28 L763.57,170.70 L763.76,169.12 L763.95,167.54 L764.14,165.96 L764.33,164.39 L764.51,162.81 L764.70,161.23 L764.89,159.65 L765.08,158.07 L765.27,156.50 L765.47,154.92 L765.66,153.34 L765.86,151.76 L766.05,150.18 L766.24,148.61 L766.43,147.03 L766.62,145.45 L766.79,143.87 L766.96,142.29 L767.13,140.72 L767.29,139.14 L767.45,137.56 L767.61,135.98 L767.77,134.40 L767.93,132.83 L768.11,131.25 L768.29,129.67 L768.48,128.09 L768.67,126.51 L768.86,124.94 L769.04,123.36 L769.21,121.78 L769.36,120.20 L769.50,118.62 L769.63,117.05 L769.75,115.47 L769.87,113.89 L769.99,112.31 L770.09,110.73 L770.19,109.16 L770.27,107.58 L770.35,106.00 Z" fill="#A61B2B" stroke="#0a0a0a" stroke-width="1.3" stroke-linejoin="round"/>
<path d="M770.81,106.00 L770.87,107.58 L770.94,109.16 L771.02,110.73 L771.10,112.31 L771.20,113.89 L771.29,115.47 L771.40,117.05 L771.50,118.62 L771.61,120.20 L771.74,121.78 L771.88,123.36 L772.03,124.94 L772.18,126.51 L772.34,128.09 L772.49,129.67 L772.65,131.25 L772.79,132.83 L772.92,134.40 L773.06,135.98 L773.19,137.56 L773.32,139.14 L773.45,140.72 L773.58,142.29 L773.72,143.87 L773.87,145.45 L774.02,147.03 L774.17,148.61 L774.33,150.18 L774.49,151.76 L774.65,153.34 L774.81,154.92 L774.97,156.50 L775.12,158.07 L775.28,159.65 L775.43,161.23 L775.59,162.81 L775.74,164.39 L775.90,165.96 L776.05,167.54 L776.21,169.12 L776.37,170.70 L776.53,172.28 L776.69,173.85 L776.85,175.43 L777.01,177.01 L777.16,178.59 L777.32,180.17 L777.46,181.74 L777.62,183.32 L777.78,184.90 L777.93,186.48 L778.06,188.06 L778.14,189.63 L778.18,191.21 L778.22,192.79 L778.25,194.37 L778.28,195.94 L778.30,197.52 L778.31,199.10 L778.30,200.68 L778.28,202.26 L778.25,203.83 L778.19,205.41 L778.13,206.99 L778.06,208.57 L777.98,210.15 L777.90,211.72 L777.81,213.30 L777.72,214.88 L777.63,216.46 L777.51,218.04 L777.38,219.61 L777.23,221.19 L777.08,222.77 L776.93,224.35 L776.78,225.93 L776.63,227.50 L776.48,229.08 L776.33,230.66 L776.18,232.24 L776.03,233.82 L775.87,235.39 L775.71,236.97 L775.55,238.55 L775.38,240.13 L775.22,241.71 L775.07,243.28 L774.91,244.86 L774.75,246.44 L774.58,248.02 L774.38,249.60 L774.17,251.17 L773.91,252.75 L773.55,254.33 L773.17,255.91 L772.87,257.49 L772.62,259.06 L772.38,260.64 L772.16,262.22 L771.96,263.80 L771.77,265.38 L771.60,266.95 L771.45,268.53 L771.31,270.11 L771.19,271.69 L771.07,273.27 L770.97,274.84 L770.88,276.42 L770.81,278.00 L770.39,278.00 L770.32,276.42 L770.23,274.84 L770.13,273.27 L770.01,271.69 L769.89,270.11 L769.75,268.53 L769.60,266.95 L769.43,265.38 L769.24,263.80 L769.04,262.22 L768.82,260.64 L768.58,259.06 L768.33,257.49 L768.03,255.91 L767.65,254.33 L767.29,252.75 L767.03,251.17 L766.82,249.60 L766.62,248.02 L766.45,246.44 L766.29,244.86 L766.13,243.28 L765.98,241.71 L765.82,240.13 L765.65,238.55 L765.49,236.97 L765.33,235.39 L765.17,233.82 L765.02,232.24 L764.87,230.66 L764.72,229.08 L764.57,227.50 L764.42,225.93 L764.27,224.35 L764.12,222.77 L763.97,221.19 L763.82,219.61 L763.69,218.04 L763.57,216.46 L763.48,214.88 L763.39,213.30 L763.30,211.72 L763.22,210.15 L763.14,208.57 L763.07,206.99 L763.01,205.41 L762.95,203.83 L762.92,202.26 L762.90,200.68 L762.89,199.10 L762.90,197.52 L762.92,195.94 L762.95,194.37 L762.98,192.79 L763.02,191.21 L763.06,189.63 L763.14,188.06 L763.27,186.48 L763.42,184.90 L763.58,183.32 L763.74,181.74 L763.88,180.17 L764.04,178.59 L764.19,177.01 L764.35,175.43 L764.51,173.85 L764.67,172.28 L764.83,170.70 L764.99,169.12 L765.15,167.54 L765.30,165.96 L765.46,164.39 L765.61,162.81 L765.77,161.23 L765.92,159.65 L766.08,158.07 L766.23,156.50 L766.39,154.92 L766.55,153.34 L766.71,151.76 L766.87,150.18 L767.03,148.61 L767.18,147.03 L767.33,145.45 L767.48,143.87 L767.62,142.29 L767.75,140.72 L767.88,139.14 L768.01,137.56 L768.14,135.98 L768.28,134.40 L768.41,132.83 L768.55,131.25 L768.71,129.67 L768.86,128.09 L769.02,126.51 L769.17,124.94 L769.32,123.36 L769.46,121.78 L769.59,120.20 L769.70,118.62 L769.80,117.05 L769.91,115.47 L770.00,113.89 L770.10,112.31 L770.18,110.73 L770.26,109.16 L770.33,107.58 L770.39,106.00 Z" fill="none" stroke="#5c0a14" stroke-width="0.8" stroke-opacity="0.8"/>
<line x1="770.6" y1="119.8" x2="770.6" y2="267.3" stroke="#000" stroke-width="2"/>
<rect x="764.85" y="176.1" width="11.50" height="48.50" fill="#fff" stroke="#111" stroke-width="1"/>
<rect x="764.85" y="197.40" width="11.50" height="4.6" fill="#000"/>
<line x1="818.5" y1="81.5" x2="818.5" y2="325.8" stroke="#000" stroke-width="1.1"/>
<path d="M818.65,122.00 L818.76,123.65 L818.88,125.30 L819.00,126.95 L819.12,128.61 L819.25,130.26 L819.38,131.91 L819.51,133.56 L819.65,135.21 L819.80,136.86 L819.94,138.51 L820.09,140.17 L820.24,141.82 L820.39,143.47 L820.54,145.12 L820.68,146.77 L820.82,148.42 L820.97,150.07 L821.11,151.72 L821.26,153.38 L821.41,155.03 L821.56,156.68 L821.72,158.33 L821.89,159.98 L822.06,161.63 L822.24,163.28 L822.41,164.94 L822.59,166.59 L822.76,168.24 L822.93,169.89 L823.09,171.54 L823.24,173.19 L823.38,174.84 L823.53,176.50 L823.69,178.15 L823.85,179.80 L824.03,181.45 L824.25,183.10 L824.50,184.75 L824.78,186.40 L825.05,188.06 L825.29,189.71 L825.49,191.36 L825.69,193.01 L825.89,194.66 L826.07,196.31 L826.23,197.96 L826.39,199.61 L826.53,201.27 L826.65,202.92 L826.76,204.57 L826.87,206.22 L826.96,207.87 L827.05,209.52 L827.13,211.17 L827.21,212.83 L827.29,214.48 L827.37,216.13 L827.46,217.78 L827.54,219.43 L827.59,221.08 L827.60,222.73 L827.58,224.39 L827.54,226.04 L827.49,227.69 L827.43,229.34 L827.36,230.99 L827.29,232.64 L827.20,234.29 L827.07,235.94 L826.93,237.60 L826.76,239.25 L826.58,240.90 L826.39,242.55 L826.19,244.20 L825.97,245.85 L825.72,247.50 L825.44,249.16 L825.14,250.81 L824.82,252.46 L824.50,254.11 L824.18,255.76 L823.88,257.41 L823.58,259.06 L823.28,260.72 L822.98,262.37 L822.68,264.02 L822.39,265.67 L822.10,267.32 L821.83,268.97 L821.57,270.62 L821.32,272.28 L821.08,273.93 L820.84,275.58 L820.61,277.23 L820.39,278.88 L820.19,280.53 L820.00,282.18 L819.82,283.83 L819.65,285.49 L819.48,287.14 L819.33,288.79 L819.18,290.44 L819.06,292.09 L818.95,293.74 L818.87,295.39 L818.80,297.05 L818.73,298.70 L818.68,300.35 L818.65,302.00 L818.15,302.00 L818.12,300.35 L818.07,298.70 L818.00,297.05 L817.93,295.39 L817.85,293.74 L817.74,292.09 L817.62,290.44 L817.47,288.79 L817.32,287.14 L817.15,285.49 L816.98,283.83 L816.80,282.18 L816.61,280.53 L816.41,278.88 L816.19,277.23 L815.96,275.58 L815.72,273.93 L815.48,272.28 L815.23,270.62 L814.97,268.97 L814.70,267.32 L814.41,265.67 L814.12,264.02 L813.82,262.37 L813.52,260.72 L813.22,259.06 L812.92,257.41 L812.62,255.76 L812.30,254.11 L811.98,252.46 L811.66,250.81 L811.36,249.16 L811.08,247.50 L810.83,245.85 L810.61,244.20 L810.41,242.55 L810.22,240.90 L810.04,239.25 L809.87,237.60 L809.73,235.94 L809.60,234.29 L809.51,232.64 L809.44,230.99 L809.37,229.34 L809.31,227.69 L809.26,226.04 L809.22,224.39 L809.20,222.73 L809.21,221.08 L809.26,219.43 L809.34,217.78 L809.43,216.13 L809.51,214.48 L809.59,212.83 L809.67,211.17 L809.75,209.52 L809.84,207.87 L809.93,206.22 L810.04,204.57 L810.15,202.92 L810.27,201.27 L810.41,199.61 L810.57,197.96 L810.73,196.31 L810.91,194.66 L811.11,193.01 L811.31,191.36 L811.51,189.71 L811.75,188.06 L812.02,186.40 L812.30,184.75 L812.55,183.10 L812.77,181.45 L812.95,179.80 L813.11,178.15 L813.27,176.50 L813.42,174.84 L813.56,173.19 L813.71,171.54 L813.87,169.89 L814.04,168.24 L814.21,166.59 L814.39,164.94 L814.56,163.28 L814.74,161.63 L814.91,159.98 L815.08,158.33 L815.24,156.68 L815.39,155.03 L815.54,153.38 L815.69,151.72 L815.83,150.07 L815.98,148.42 L816.12,146.77 L816.26,145.12 L816.41,143.47 L816.56,141.82 L816.71,140.17 L816.86,138.51 L817.00,136.86 L817.15,135.21 L817.29,133.56 L817.42,131.91 L817.55,130.26 L817.68,128.61 L817.80,126.95 L817.92,125.30 L818.04,123.65 L818.15,122.00 Z" fill="#E9623E" stroke="#0a0a0a" stroke-width="1.3" stroke-linejoin="round"/>
<path d="M818.61,122.00 L818.70,123.65 L818.79,125.30 L818.89,126.95 L818.99,128.61 L819.09,130.26 L819.20,131.91 L819.31,133.56 L819.43,135.21 L819.54,136.86 L819.66,138.51 L819.79,140.17 L819.91,141.82 L820.03,143.47 L820.15,145.12 L820.27,146.77 L820.39,148.42 L820.50,150.07 L820.62,151.72 L820.74,153.38 L820.86,155.03 L820.99,156.68 L821.12,158.33 L821.26,159.98 L821.40,161.63 L821.55,163.28 L821.69,164.94 L821.83,166.59 L821.98,168.24 L822.11,169.89 L822.24,171.54 L822.37,173.19 L822.49,174.84 L822.61,176.50 L822.73,178.15 L822.87,179.80 L823.02,181.45 L823.19,183.10 L823.40,184.75 L823.63,186.40 L823.85,188.06 L824.05,189.71 L824.22,191.36 L824.38,193.01 L824.54,194.66 L824.69,196.31 L824.82,197.96 L824.95,199.61 L825.07,201.27 L825.17,202.92 L825.26,204.57 L825.34,206.22 L825.42,207.87 L825.49,209.52 L825.56,211.17 L825.63,212.83 L825.69,214.48 L825.76,216.13 L825.83,217.78 L825.89,219.43 L825.93,221.08 L825.94,222.73 L825.93,224.39 L825.90,226.04 L825.86,227.69 L825.81,229.34 L825.75,230.99 L825.69,232.64 L825.61,234.29 L825.51,235.94 L825.39,237.60 L825.26,239.25 L825.11,240.90 L824.95,242.55 L824.79,244.20 L824.61,245.85 L824.41,247.50 L824.17,249.16 L823.92,250.81 L823.66,252.46 L823.40,254.11 L823.14,255.76 L822.89,257.41 L822.65,259.06 L822.40,260.72 L822.16,262.37 L821.91,264.02 L821.67,265.67 L821.43,267.32 L821.21,268.97 L821.00,270.62 L820.80,272.28 L820.59,273.93 L820.40,275.58 L820.21,277.23 L820.03,278.88 L819.87,280.53 L819.71,282.18 L819.57,283.83 L819.43,285.49 L819.29,287.14 L819.16,288.79 L819.04,290.44 L818.94,292.09 L818.85,293.74 L818.78,295.39 L818.72,297.05 L818.67,298.70 L818.63,300.35 L818.61,302.00 L818.19,302.00 L818.17,300.35 L818.13,298.70 L818.08,297.05 L818.02,295.39 L817.95,293.74 L817.86,292.09 L817.76,290.44 L817.64,288.79 L817.51,287.14 L817.37,285.49 L817.23,283.83 L817.09,282.18 L816.93,280.53 L816.77,278.88 L816.59,277.23 L816.40,275.58 L816.21,273.93 L816.00,272.28 L815.80,270.62 L815.59,268.97 L815.37,267.32 L815.13,265.67 L814.89,264.02 L814.64,262.37 L814.40,260.72 L814.15,259.06 L813.91,257.41 L813.66,255.76 L813.40,254.11 L813.14,252.46 L812.88,250.81 L812.63,249.16 L812.39,247.50 L812.19,245.85 L812.01,244.20 L811.85,242.55 L811.69,240.90 L811.54,239.25 L811.41,237.60 L811.29,235.94 L811.19,234.29 L811.11,232.64 L811.05,230.99 L810.99,229.34 L810.94,227.69 L810.90,226.04 L810.87,224.39 L810.86,222.73 L810.87,221.08 L810.91,219.43 L810.97,217.78 L811.04,216.13 L811.11,214.48 L811.17,212.83 L811.24,211.17 L811.31,209.52 L811.38,207.87 L811.46,206.22 L811.54,204.57 L811.63,202.92 L811.73,201.27 L811.85,199.61 L811.98,197.96 L812.11,196.31 L812.26,194.66 L812.42,193.01 L812.58,191.36 L812.75,189.71 L812.95,188.06 L813.17,186.40 L813.40,184.75 L813.61,183.10 L813.78,181.45 L813.93,179.80 L814.07,178.15 L814.19,176.50 L814.31,174.84 L814.43,173.19 L814.56,171.54 L814.69,169.89 L814.82,168.24 L814.97,166.59 L815.11,164.94 L815.25,163.28 L815.40,161.63 L815.54,159.98 L815.68,158.33 L815.81,156.68 L815.94,155.03 L816.06,153.38 L816.18,151.72 L816.30,150.07 L816.41,148.42 L816.53,146.77 L816.65,145.12 L816.77,143.47 L816.89,141.82 L817.01,140.17 L817.14,138.51 L817.26,136.86 L817.37,135.21 L817.49,133.56 L817.60,131.91 L817.71,130.26 L817.81,128.61 L817.91,126.95 L818.01,125.30 L818.10,123.65 L818.19,122.00 Z" fill="none" stroke="#7a2a12" stroke-width="0.8" stroke-opacity="0.8"/>
<line x1="818.4" y1="124.8" x2="818.4" y2="277.3" stroke="#000" stroke-width="2"/>
<rect x="812.55" y="190.3" width="11.70" height="51.70" fill="#fff" stroke="#111" stroke-width="1"/>
<rect x="812.55" y="215.00" width="11.70" height="4.6" fill="#000"/>
<line x1="866.5" y1="123.0" x2="866.5" y2="212.2" stroke="#000" stroke-width="1.1"/>
<path d="M866.45,137.20 L866.48,137.90 L866.52,138.59 L866.56,139.29 L866.60,139.98 L866.64,140.68 L866.69,141.37 L866.74,142.07 L866.78,142.76 L866.83,143.46 L866.87,144.15 L866.92,144.85 L866.96,145.54 L867.02,146.24 L867.09,146.94 L867.19,147.63 L867.38,148.33 L867.72,149.02 L868.13,149.72 L868.56,150.41 L869.05,151.11 L869.62,151.80 L870.26,152.50 L870.99,153.19 L871.77,153.89 L872.63,154.59 L873.57,155.28 L874.47,155.98 L875.30,156.67 L876.09,157.37 L876.87,158.06 L877.64,158.76 L878.40,159.45 L879.15,160.15 L879.90,160.84 L880.64,161.54 L881.33,162.23 L881.98,162.93 L882.58,163.63 L883.12,164.32 L883.60,165.02 L884.04,165.71 L884.40,166.41 L884.72,167.10 L884.99,167.80 L885.20,168.49 L885.37,169.19 L885.49,169.88 L885.55,170.58 L885.59,171.28 L885.57,171.97 L885.40,172.67 L885.19,173.36 L884.91,174.06 L884.57,174.75 L884.17,175.45 L883.70,176.14 L883.20,176.84 L882.63,177.53 L882.02,178.23 L881.38,178.92 L880.71,179.62 L880.01,180.32 L879.29,181.01 L878.54,181.71 L877.76,182.40 L876.99,183.10 L876.21,183.79 L875.43,184.49 L874.72,185.18 L874.06,185.88 L873.44,186.57 L872.87,187.27 L872.33,187.97 L871.84,188.66 L871.41,189.36 L871.02,190.05 L870.66,190.75 L870.34,191.44 L870.03,192.14 L869.74,192.83 L869.47,193.53 L869.21,194.22 L868.96,194.92 L868.73,195.61 L868.46,196.31 L868.20,197.01 L868.00,197.70 L867.90,198.40 L867.90,199.09 L867.90,199.79 L867.90,200.48 L867.90,201.18 L867.90,201.87 L867.90,202.57 L867.90,203.26 L867.93,203.96 L867.99,204.66 L868.07,205.35 L868.16,206.05 L868.25,206.74 L868.34,207.44 L868.41,208.13 L868.48,208.83 L868.55,209.52 L868.62,210.22 L868.69,210.91 L868.76,211.61 L868.83,212.30 L868.90,213.00 L863.50,213.00 L863.57,212.30 L863.64,211.61 L863.71,210.91 L863.78,210.22 L863.85,209.52 L863.92,208.83 L863.99,208.13 L864.06,207.44 L864.15,206.74 L864.24,206.05 L864.33,205.35 L864.41,204.66 L864.47,203.96 L864.50,203.26 L864.50,202.57 L864.50,201.87 L864.50,201.18 L864.50,200.48 L864.50,199.79 L864.50,199.09 L864.50,198.40 L864.40,197.70 L864.20,197.01 L863.94,196.31 L863.67,195.61 L863.44,194.92 L863.19,194.22 L862.93,193.53 L862.66,192.83 L862.37,192.14 L862.06,191.44 L861.74,190.75 L861.38,190.05 L860.99,189.36 L860.56,188.66 L860.07,187.97 L859.53,187.27 L858.96,186.57 L858.34,185.88 L857.68,185.18 L856.97,184.49 L856.19,183.79 L855.41,183.10 L854.64,182.40 L853.86,181.71 L853.11,181.01 L852.39,180.32 L851.69,179.62 L851.02,178.92 L850.38,178.23 L849.77,177.53 L849.20,176.84 L848.70,176.14 L848.23,175.45 L847.83,174.75 L847.49,174.06 L847.21,173.36 L847.00,172.67 L846.83,171.97 L846.81,171.28 L846.85,170.58 L846.91,169.88 L847.03,169.19 L847.20,168.49 L847.41,167.80 L847.68,167.10 L848.00,166.41 L848.36,165.71 L848.80,165.02 L849.28,164.32 L849.82,163.63 L850.42,162.93 L851.07,162.23 L851.76,161.54 L852.50,160.84 L853.25,160.15 L854.00,159.45 L854.76,158.76 L855.53,158.06 L856.31,157.37 L857.10,156.67 L857.93,155.98 L858.83,155.28 L859.77,154.59 L860.63,153.89 L861.41,153.19 L862.14,152.50 L862.78,151.80 L863.35,151.11 L863.84,150.41 L864.27,149.72 L864.68,149.02 L865.02,148.33 L865.21,147.63 L865.31,146.94 L865.38,146.24 L865.44,145.54 L865.48,144.85 L865.53,144.15 L865.57,143.46 L865.62,142.76 L865.66,142.07 L865.71,141.37 L865.76,140.68 L865.80,139.98 L865.84,139.29 L865.88,138.59 L865.92,137.90 L865.95,137.20 Z" fill="#F0B666" stroke="#0a0a0a" stroke-width="1.3" stroke-linejoin="round"/>
<path d="M866.41,137.20 L866.43,137.90 L866.46,138.59 L866.49,139.29 L866.53,139.98 L866.56,140.68 L866.60,141.37 L866.64,142.07 L866.68,142.76 L866.72,143.46 L866.75,144.15 L866.79,144.85 L866.83,145.54 L866.87,146.24 L866.93,146.94 L867.01,147.63 L867.17,148.33 L867.45,149.02 L867.78,149.72 L868.13,150.41 L868.54,151.11 L869.00,151.80 L869.53,152.50 L870.12,153.19 L870.77,153.89 L871.47,154.59 L872.24,155.28 L872.98,155.98 L873.66,156.67 L874.31,157.37 L874.95,158.06 L875.58,158.76 L876.20,159.45 L876.81,160.15 L877.43,160.84 L878.04,161.54 L878.61,162.23 L879.14,162.93 L879.63,163.63 L880.07,164.32 L880.47,165.02 L880.82,165.71 L881.13,166.41 L881.38,167.10 L881.60,167.80 L881.78,168.49 L881.92,169.19 L882.02,169.88 L882.07,170.58 L882.10,171.28 L882.08,171.97 L881.94,172.67 L881.77,173.36 L881.54,174.06 L881.27,174.75 L880.94,175.45 L880.55,176.14 L880.14,176.84 L879.68,177.53 L879.17,178.23 L878.65,178.92 L878.10,179.62 L877.53,180.32 L876.93,181.01 L876.32,181.71 L875.68,182.40 L875.05,183.10 L874.41,183.79 L873.77,184.49 L873.19,185.18 L872.64,185.88 L872.13,186.57 L871.67,187.27 L871.23,187.97 L870.83,188.66 L870.47,189.36 L870.15,190.05 L869.86,190.75 L869.59,191.44 L869.34,192.14 L869.10,192.83 L868.88,193.53 L868.67,194.22 L868.46,194.92 L868.27,195.61 L868.06,196.31 L867.84,197.01 L867.67,197.70 L867.60,198.40 L867.59,199.09 L867.59,199.79 L867.59,200.48 L867.59,201.18 L867.59,201.87 L867.59,202.57 L867.60,203.26 L867.62,203.96 L867.67,204.66 L867.73,205.35 L867.81,206.05 L867.88,206.74 L867.95,207.44 L868.01,208.13 L868.07,208.83 L868.13,209.52 L868.19,210.22 L868.24,210.91 L868.30,211.61 L868.36,212.30 L868.41,213.00 L863.99,213.00 L864.04,212.30 L864.10,211.61 L864.16,210.91 L864.21,210.22 L864.27,209.52 L864.33,208.83 L864.39,208.13 L864.45,207.44 L864.52,206.74 L864.59,206.05 L864.67,205.35 L864.73,204.66 L864.78,203.96 L864.80,203.26 L864.81,202.57 L864.81,201.87 L864.81,201.18 L864.81,200.48 L864.81,199.79 L864.81,199.09 L864.80,198.40 L864.73,197.70 L864.56,197.01 L864.34,196.31 L864.13,195.61 L863.94,194.92 L863.73,194.22 L863.52,193.53 L863.30,192.83 L863.06,192.14 L862.81,191.44 L862.54,190.75 L862.25,190.05 L861.93,189.36 L861.57,188.66 L861.17,187.97 L860.73,187.27 L860.27,186.57 L859.76,185.88 L859.21,185.18 L858.63,184.49 L857.99,183.79 L857.35,183.10 L856.72,182.40 L856.08,181.71 L855.47,181.01 L854.87,180.32 L854.30,179.62 L853.75,178.92 L853.23,178.23 L852.72,177.53 L852.26,176.84 L851.85,176.14 L851.46,175.45 L851.13,174.75 L850.86,174.06 L850.63,173.36 L850.46,172.67 L850.32,171.97 L850.30,171.28 L850.33,170.58 L850.38,169.88 L850.48,169.19 L850.62,168.49 L850.80,167.80 L851.02,167.10 L851.27,166.41 L851.58,165.71 L851.93,165.02 L852.33,164.32 L852.77,163.63 L853.26,162.93 L853.79,162.23 L854.36,161.54 L854.97,160.84 L855.59,160.15 L856.20,159.45 L856.82,158.76 L857.45,158.06 L858.09,157.37 L858.74,156.67 L859.42,155.98 L860.16,155.28 L860.93,154.59 L861.63,153.89 L862.28,153.19 L862.87,152.50 L863.40,151.80 L863.86,151.11 L864.27,150.41 L864.62,149.72 L864.95,149.02 L865.23,148.33 L865.39,147.63 L865.47,146.94 L865.53,146.24 L865.57,145.54 L865.61,144.85 L865.65,144.15 L865.68,143.46 L865.72,142.76 L865.76,142.07 L865.80,141.37 L865.84,140.68 L865.87,139.98 L865.91,139.29 L865.94,138.59 L865.97,137.90 L866.00,137.20 Z" fill="none" stroke="#8a5a1a" stroke-width="0.8" stroke-opacity="0.8"/>
<line x1="866.2" y1="142.2" x2="866.2" y2="199.0" stroke="#000" stroke-width="2"/>
<rect x="854.75" y="166.3" width="22.90" height="20.00" fill="#fff" stroke="#111" stroke-width="1"/>
<rect x="854.75" y="170.90" width="22.90" height="4.6" fill="#000"/>
<line x1="866.2" y1="198" x2="866.2" y2="212.5" stroke="#1a0f00" stroke-width="1.3"/>
<g stroke="#3a2608" stroke-width="0.9" fill="#F0B666">
<path d="M864.4,221.5 h0.8 M868.0,221.5 h0.8 M864.4,255 h0.8 M868.0,255 h0.8" stroke="#bbb" stroke-width="0.8"/>
<path d="M864.3000000000001,229.2 h1.3 M867.6,229.2 h1.3" stroke="#333" stroke-width="1.4"/>
<path d="M866.6,237.3 L868.6,248 L867.5,248 L866.6,243.5 L865.7,248 L864.6,248 Z"/>
<path d="M864.3000000000001,261 L865.5,261 L866.6,265.5 L867.7,261 L868.9,261 L867.15,268.5 L867.15,276 L866.0500000000001,276 L866.0500000000001,268.5 Z" stroke="#222"/>
</g>
<line x1="914.5" y1="107.3" x2="914.5" y2="317.1" stroke="#000" stroke-width="1.1"/>
<path d="M914.25,127.30 L914.31,128.87 L914.37,130.43 L914.44,132.00 L914.52,133.56 L914.60,135.13 L914.69,136.70 L914.78,138.26 L914.88,139.83 L914.98,141.39 L915.08,142.96 L915.19,144.53 L915.30,146.09 L915.42,147.66 L915.56,149.22 L915.70,150.79 L915.84,152.36 L915.99,153.92 L916.14,155.49 L916.30,157.06 L916.45,158.62 L916.60,160.19 L916.75,161.75 L916.91,163.32 L917.07,164.89 L917.24,166.45 L917.41,168.02 L917.60,169.58 L917.80,171.15 L918.02,172.72 L918.25,174.28 L918.48,175.85 L918.72,177.41 L918.94,178.98 L919.17,180.55 L919.42,182.11 L919.69,183.68 L919.98,185.24 L920.29,186.81 L920.61,188.38 L920.93,189.94 L921.28,191.51 L921.63,193.07 L921.95,194.64 L922.24,196.21 L922.55,197.77 L922.89,199.34 L923.29,200.90 L923.66,202.47 L924.02,204.04 L924.37,205.60 L924.67,207.17 L924.90,208.73 L925.13,210.30 L925.33,211.87 L925.46,213.43 L925.50,215.00 L925.50,216.57 L925.50,218.13 L925.50,219.70 L925.44,221.26 L925.24,222.83 L924.95,224.40 L924.62,225.96 L924.32,227.53 L923.98,229.09 L923.60,230.66 L923.24,232.23 L922.91,233.79 L922.59,235.36 L922.27,236.92 L921.94,238.49 L921.59,240.06 L921.20,241.62 L920.80,243.19 L920.43,244.75 L920.10,246.32 L919.78,247.89 L919.48,249.45 L919.18,251.02 L918.90,252.58 L918.63,254.15 L918.36,255.72 L918.10,257.28 L917.85,258.85 L917.60,260.41 L917.36,261.98 L917.13,263.55 L916.90,265.11 L916.69,266.68 L916.49,268.24 L916.30,269.81 L916.12,271.38 L915.95,272.94 L915.79,274.51 L915.64,276.08 L915.50,277.64 L915.35,279.21 L915.22,280.77 L915.09,282.34 L914.95,283.91 L914.80,285.47 L914.65,287.04 L914.51,288.60 L914.38,290.17 L914.28,291.74 L914.22,293.30 L914.20,294.87 L914.21,296.43 L914.25,298.00 L913.75,298.00 L913.79,296.43 L913.80,294.87 L913.78,293.30 L913.72,291.74 L913.62,290.17 L913.49,288.60 L913.35,287.04 L913.20,285.47 L913.05,283.91 L912.91,282.34 L912.78,280.77 L912.65,279.21 L912.50,277.64 L912.36,276.08 L912.21,274.51 L912.05,272.94 L911.88,271.38 L911.70,269.81 L911.51,268.24 L911.31,266.68 L911.10,265.11 L910.87,263.55 L910.64,261.98 L910.40,260.41 L910.15,258.85 L909.90,257.28 L909.64,255.72 L909.37,254.15 L909.10,252.58 L908.82,251.02 L908.52,249.45 L908.22,247.89 L907.90,246.32 L907.57,244.75 L907.20,243.19 L906.80,241.62 L906.41,240.06 L906.06,238.49 L905.73,236.92 L905.41,235.36 L905.09,233.79 L904.76,232.23 L904.40,230.66 L904.02,229.09 L903.68,227.53 L903.38,225.96 L903.05,224.40 L902.76,222.83 L902.56,221.26 L902.50,219.70 L902.50,218.13 L902.50,216.57 L902.50,215.00 L902.54,213.43 L902.67,211.87 L902.87,210.30 L903.10,208.73 L903.33,207.17 L903.63,205.60 L903.98,204.04 L904.34,202.47 L904.71,200.90 L905.11,199.34 L905.45,197.77 L905.76,196.21 L906.05,194.64 L906.37,193.07 L906.72,191.51 L907.07,189.94 L907.39,188.38 L907.71,186.81 L908.02,185.24 L908.31,183.68 L908.58,182.11 L908.83,180.55 L909.06,178.98 L909.28,177.41 L909.52,175.85 L909.75,174.28 L909.98,172.72 L910.20,171.15 L910.40,169.58 L910.59,168.02 L910.76,166.45 L910.93,164.89 L911.09,163.32 L911.25,161.75 L911.40,160.19 L911.55,158.62 L911.70,157.06 L911.86,155.49 L912.01,153.92 L912.16,152.36 L912.30,150.79 L912.44,149.22 L912.58,147.66 L912.70,146.09 L912.81,144.53 L912.92,142.96 L913.02,141.39 L913.12,139.83 L913.22,138.26 L913.31,136.70 L913.40,135.13 L913.48,133.56 L913.56,132.00 L913.63,130.43 L913.69,128.87 L913.75,127.30 Z" fill="#7BB2D6" stroke="#0a0a0a" stroke-width="1.3" stroke-linejoin="round"/>
<path d="M914.21,127.30 L914.25,128.87 L914.31,130.43 L914.36,132.00 L914.43,133.56 L914.49,135.13 L914.57,136.70 L914.64,138.26 L914.72,139.83 L914.80,141.39 L914.89,142.96 L914.97,144.53 L915.07,146.09 L915.17,147.66 L915.28,149.22 L915.39,150.79 L915.51,152.36 L915.63,153.92 L915.76,155.49 L915.88,157.06 L916.01,158.62 L916.13,160.19 L916.25,161.75 L916.38,163.32 L916.52,164.89 L916.65,166.45 L916.80,168.02 L916.95,169.58 L917.12,171.15 L917.30,172.72 L917.49,174.28 L917.68,175.85 L917.87,177.41 L918.05,178.98 L918.24,180.55 L918.44,182.11 L918.67,183.68 L918.91,185.24 L919.16,186.81 L919.42,188.38 L919.68,189.94 L919.97,191.51 L920.26,193.07 L920.52,194.64 L920.76,196.21 L921.01,197.77 L921.29,199.34 L921.62,200.90 L921.92,202.47 L922.22,204.04 L922.50,205.60 L922.75,207.17 L922.94,208.73 L923.13,210.30 L923.29,211.87 L923.40,213.43 L923.43,215.00 L923.43,216.57 L923.43,218.13 L923.43,219.70 L923.38,221.26 L923.22,222.83 L922.98,224.40 L922.71,225.96 L922.46,227.53 L922.18,229.09 L921.87,230.66 L921.58,232.23 L921.30,233.79 L921.04,235.36 L920.78,236.92 L920.51,238.49 L920.23,240.06 L919.91,241.62 L919.58,243.19 L919.27,244.75 L919.00,246.32 L918.74,247.89 L918.49,249.45 L918.25,251.02 L918.02,252.58 L917.79,254.15 L917.58,255.72 L917.36,257.28 L917.16,258.85 L916.95,260.41 L916.76,261.98 L916.56,263.55 L916.38,265.11 L916.21,266.68 L916.04,268.24 L915.88,269.81 L915.74,271.38 L915.60,272.94 L915.47,274.51 L915.35,276.08 L915.23,277.64 L915.11,279.21 L915.00,280.77 L914.89,282.34 L914.78,283.91 L914.66,285.47 L914.53,287.04 L914.42,288.60 L914.31,290.17 L914.23,291.74 L914.18,293.30 L914.16,294.87 L914.17,296.43 L914.21,298.00 L913.79,298.00 L913.83,296.43 L913.84,294.87 L913.82,293.30 L913.77,291.74 L913.69,290.17 L913.58,288.60 L913.47,287.04 L913.34,285.47 L913.22,283.91 L913.11,282.34 L913.00,280.77 L912.89,279.21 L912.77,277.64 L912.65,276.08 L912.53,274.51 L912.40,272.94 L912.26,271.38 L912.12,269.81 L911.96,268.24 L911.79,266.68 L911.62,265.11 L911.44,263.55 L911.24,261.98 L911.05,260.41 L910.84,258.85 L910.64,257.28 L910.42,255.72 L910.21,254.15 L909.98,252.58 L909.75,251.02 L909.51,249.45 L909.26,247.89 L909.00,246.32 L908.73,244.75 L908.42,243.19 L908.09,241.62 L907.77,240.06 L907.49,238.49 L907.22,236.92 L906.96,235.36 L906.70,233.79 L906.42,232.23 L906.13,230.66 L905.82,229.09 L905.54,227.53 L905.29,225.96 L905.02,224.40 L904.78,222.83 L904.62,221.26 L904.57,219.70 L904.57,218.13 L904.57,216.57 L904.57,215.00 L904.60,213.43 L904.71,211.87 L904.87,210.30 L905.06,208.73 L905.25,207.17 L905.50,205.60 L905.78,204.04 L906.08,202.47 L906.38,200.90 L906.71,199.34 L906.99,197.77 L907.24,196.21 L907.48,194.64 L907.74,193.07 L908.03,191.51 L908.32,189.94 L908.58,188.38 L908.84,186.81 L909.09,185.24 L909.33,183.68 L909.56,182.11 L909.76,180.55 L909.95,178.98 L910.13,177.41 L910.32,175.85 L910.51,174.28 L910.70,172.72 L910.88,171.15 L911.05,169.58 L911.20,168.02 L911.35,166.45 L911.48,164.89 L911.62,163.32 L911.75,161.75 L911.87,160.19 L911.99,158.62 L912.12,157.06 L912.24,155.49 L912.37,153.92 L912.49,152.36 L912.61,150.79 L912.72,149.22 L912.83,147.66 L912.93,146.09 L913.03,144.53 L913.11,142.96 L913.20,141.39 L913.28,139.83 L913.36,138.26 L913.43,136.70 L913.51,135.13 L913.57,133.56 L913.64,132.00 L913.69,130.43 L913.75,128.87 L913.79,127.30 Z" fill="none" stroke="#2f5f85" stroke-width="0.8" stroke-opacity="0.8"/>
<line x1="914.0" y1="149.7" x2="914.0" y2="274.8" stroke="#000" stroke-width="2"/>
<rect x="906.95" y="201.0" width="14.10" height="35.20" fill="#fff" stroke="#111" stroke-width="1"/>
<rect x="906.95" y="213.70" width="14.10" height="4.6" fill="#000"/>
<line x1="1057.5" y1="144.3" x2="1057.5" y2="301.4" stroke="#000" stroke-width="1.1"/>
<path d="M1058.00,156.00 L1058.23,157.26 L1058.49,158.51 L1058.78,159.77 L1059.11,161.03 L1059.42,162.28 L1059.69,163.54 L1059.95,164.80 L1060.23,166.06 L1060.53,167.31 L1060.81,168.57 L1061.08,169.83 L1061.32,171.08 L1061.55,172.34 L1061.76,173.60 L1061.91,174.85 L1062.03,176.11 L1062.12,177.37 L1062.19,178.62 L1062.23,179.88 L1062.27,181.14 L1062.30,182.39 L1062.30,183.65 L1062.29,184.91 L1062.27,186.17 L1062.25,187.42 L1062.22,188.68 L1062.19,189.94 L1062.15,191.19 L1062.11,192.45 L1062.05,193.71 L1062.00,194.96 L1061.94,196.22 L1061.87,197.48 L1061.80,198.73 L1061.73,199.99 L1061.65,201.25 L1061.56,202.50 L1061.45,203.76 L1061.32,205.02 L1061.23,206.28 L1061.20,207.53 L1061.22,208.79 L1061.26,210.05 L1061.32,211.30 L1061.50,212.56 L1061.81,213.82 L1062.19,215.07 L1062.80,216.33 L1063.55,217.59 L1064.47,218.84 L1065.41,220.10 L1066.30,221.36 L1067.15,222.61 L1067.92,223.87 L1068.64,225.13 L1069.29,226.39 L1069.84,227.64 L1070.35,228.90 L1070.81,230.16 L1071.17,231.41 L1071.43,232.67 L1071.66,233.93 L1071.85,235.18 L1071.97,236.44 L1071.99,237.70 L1071.92,238.95 L1071.77,240.21 L1071.58,241.47 L1071.36,242.72 L1071.03,243.98 L1070.61,245.24 L1070.16,246.50 L1069.69,247.75 L1069.18,249.01 L1068.62,250.27 L1068.06,251.52 L1067.52,252.78 L1066.97,254.04 L1066.42,255.29 L1065.88,256.55 L1065.37,257.81 L1064.88,259.06 L1064.39,260.32 L1063.92,261.58 L1063.47,262.83 L1063.03,264.09 L1062.61,265.35 L1062.21,266.61 L1061.84,267.86 L1061.48,269.12 L1061.14,270.38 L1060.82,271.63 L1060.54,272.89 L1060.28,274.15 L1060.04,275.40 L1059.82,276.66 L1059.61,277.92 L1059.42,279.17 L1059.25,280.43 L1059.08,281.69 L1058.91,282.94 L1058.72,284.20 L1058.50,285.46 L1058.30,286.72 L1058.16,287.97 L1058.10,289.23 L1058.07,290.49 L1058.06,291.74 L1058.05,293.00 L1057.55,293.00 L1057.54,291.74 L1057.53,290.49 L1057.50,289.23 L1057.44,287.97 L1057.30,286.72 L1057.10,285.46 L1056.88,284.20 L1056.69,282.94 L1056.52,281.69 L1056.35,280.43 L1056.18,279.17 L1055.99,277.92 L1055.78,276.66 L1055.56,275.40 L1055.32,274.15 L1055.06,272.89 L1054.78,271.63 L1054.46,270.38 L1054.12,269.12 L1053.76,267.86 L1053.39,266.61 L1052.99,265.35 L1052.57,264.09 L1052.13,262.83 L1051.68,261.58 L1051.21,260.32 L1050.72,259.06 L1050.23,257.81 L1049.72,256.55 L1049.18,255.29 L1048.63,254.04 L1048.08,252.78 L1047.54,251.52 L1046.98,250.27 L1046.42,249.01 L1045.91,247.75 L1045.44,246.50 L1044.99,245.24 L1044.57,243.98 L1044.24,242.72 L1044.02,241.47 L1043.83,240.21 L1043.68,238.95 L1043.61,237.70 L1043.63,236.44 L1043.75,235.18 L1043.94,233.93 L1044.17,232.67 L1044.43,231.41 L1044.79,230.16 L1045.25,228.90 L1045.76,227.64 L1046.31,226.39 L1046.96,225.13 L1047.68,223.87 L1048.45,222.61 L1049.30,221.36 L1050.19,220.10 L1051.13,218.84 L1052.05,217.59 L1052.80,216.33 L1053.41,215.07 L1053.79,213.82 L1054.10,212.56 L1054.28,211.30 L1054.34,210.05 L1054.38,208.79 L1054.40,207.53 L1054.37,206.28 L1054.28,205.02 L1054.15,203.76 L1054.04,202.50 L1053.95,201.25 L1053.87,199.99 L1053.80,198.73 L1053.73,197.48 L1053.66,196.22 L1053.60,194.96 L1053.55,193.71 L1053.49,192.45 L1053.45,191.19 L1053.41,189.94 L1053.38,188.68 L1053.35,187.42 L1053.33,186.17 L1053.31,184.91 L1053.30,183.65 L1053.30,182.39 L1053.33,181.14 L1053.37,179.88 L1053.41,178.62 L1053.48,177.37 L1053.57,176.11 L1053.69,174.85 L1053.84,173.60 L1054.05,172.34 L1054.28,171.08 L1054.52,169.83 L1054.79,168.57 L1055.07,167.31 L1055.37,166.06 L1055.65,164.80 L1055.91,163.54 L1056.18,162.28 L1056.49,161.03 L1056.82,159.77 L1057.11,158.51 L1057.37,157.26 L1057.60,156.00 Z" fill="#A61B2B" stroke="#0a0a0a" stroke-width="1.3" stroke-linejoin="round"/>
<path d="M1057.96,156.00 L1058.16,157.26 L1058.37,158.51 L1058.61,159.77 L1058.87,161.03 L1059.13,162.28 L1059.35,163.54 L1059.56,164.80 L1059.79,166.06 L1060.04,167.31 L1060.27,168.57 L1060.49,169.83 L1060.69,171.08 L1060.87,172.34 L1061.05,173.60 L1061.17,174.85 L1061.27,176.11 L1061.34,177.37 L1061.40,178.62 L1061.43,179.88 L1061.47,181.14 L1061.49,182.39 L1061.49,183.65 L1061.48,184.91 L1061.47,186.17 L1061.45,187.42 L1061.42,188.68 L1061.40,189.94 L1061.37,191.19 L1061.33,192.45 L1061.29,193.71 L1061.24,194.96 L1061.19,196.22 L1061.14,197.48 L1061.08,198.73 L1061.02,199.99 L1060.96,201.25 L1060.89,202.50 L1060.79,203.76 L1060.69,205.02 L1060.61,206.28 L1060.59,207.53 L1060.60,208.79 L1060.64,210.05 L1060.69,211.30 L1060.84,212.56 L1061.09,213.82 L1061.40,215.07 L1061.90,216.33 L1062.52,217.59 L1063.27,218.84 L1064.04,220.10 L1064.77,221.36 L1065.47,222.61 L1066.10,223.87 L1066.69,225.13 L1067.22,226.39 L1067.67,227.64 L1068.09,228.90 L1068.47,230.16 L1068.76,231.41 L1068.98,232.67 L1069.17,233.93 L1069.32,235.18 L1069.42,236.44 L1069.44,237.70 L1069.38,238.95 L1069.26,240.21 L1069.10,241.47 L1068.92,242.72 L1068.65,243.98 L1068.31,245.24 L1067.93,246.50 L1067.55,247.75 L1067.13,249.01 L1066.67,250.27 L1066.22,251.52 L1065.77,252.78 L1065.32,254.04 L1064.87,255.29 L1064.43,256.55 L1064.01,257.81 L1063.60,259.06 L1063.21,260.32 L1062.82,261.58 L1062.45,262.83 L1062.09,264.09 L1061.75,265.35 L1061.42,266.61 L1061.11,267.86 L1060.81,269.12 L1060.54,270.38 L1060.28,271.63 L1060.04,272.89 L1059.83,274.15 L1059.64,275.40 L1059.46,276.66 L1059.29,277.92 L1059.13,279.17 L1058.99,280.43 L1058.85,281.69 L1058.71,282.94 L1058.55,284.20 L1058.38,285.46 L1058.21,286.72 L1058.09,287.97 L1058.04,289.23 L1058.02,290.49 L1058.01,291.74 L1058.00,293.00 L1057.60,293.00 L1057.59,291.74 L1057.58,290.49 L1057.56,289.23 L1057.51,287.97 L1057.39,286.72 L1057.22,285.46 L1057.05,284.20 L1056.89,282.94 L1056.75,281.69 L1056.61,280.43 L1056.47,279.17 L1056.31,277.92 L1056.14,276.66 L1055.96,275.40 L1055.77,274.15 L1055.56,272.89 L1055.32,271.63 L1055.06,270.38 L1054.79,269.12 L1054.49,267.86 L1054.18,266.61 L1053.85,265.35 L1053.51,264.09 L1053.15,262.83 L1052.78,261.58 L1052.39,260.32 L1052.00,259.06 L1051.59,257.81 L1051.17,256.55 L1050.73,255.29 L1050.28,254.04 L1049.83,252.78 L1049.38,251.52 L1048.93,250.27 L1048.47,249.01 L1048.05,247.75 L1047.67,246.50 L1047.29,245.24 L1046.95,243.98 L1046.68,242.72 L1046.50,241.47 L1046.34,240.21 L1046.22,238.95 L1046.16,237.70 L1046.18,236.44 L1046.28,235.18 L1046.43,233.93 L1046.62,232.67 L1046.84,231.41 L1047.13,230.16 L1047.51,228.90 L1047.93,227.64 L1048.38,226.39 L1048.91,225.13 L1049.50,223.87 L1050.13,222.61 L1050.83,221.36 L1051.56,220.10 L1052.33,218.84 L1053.08,217.59 L1053.70,216.33 L1054.20,215.07 L1054.51,213.82 L1054.76,212.56 L1054.91,211.30 L1054.96,210.05 L1055.00,208.79 L1055.01,207.53 L1054.99,206.28 L1054.91,205.02 L1054.81,203.76 L1054.71,202.50 L1054.64,201.25 L1054.58,199.99 L1054.52,198.73 L1054.46,197.48 L1054.41,196.22 L1054.36,194.96 L1054.31,193.71 L1054.27,192.45 L1054.23,191.19 L1054.20,189.94 L1054.18,188.68 L1054.15,187.42 L1054.13,186.17 L1054.12,184.91 L1054.11,183.65 L1054.11,182.39 L1054.13,181.14 L1054.17,179.88 L1054.20,178.62 L1054.26,177.37 L1054.33,176.11 L1054.43,174.85 L1054.55,173.60 L1054.73,172.34 L1054.91,171.08 L1055.11,169.83 L1055.33,168.57 L1055.56,167.31 L1055.81,166.06 L1056.04,164.80 L1056.25,163.54 L1056.47,162.28 L1056.73,161.03 L1056.99,159.77 L1057.23,158.51 L1057.44,157.26 L1057.64,156.00 Z" fill="none" stroke="#5c0a14" stroke-width="0.8" stroke-opacity="0.8"/>
<line x1="1057.8" y1="174.6" x2="1057.8" y2="272.3" stroke="#000" stroke-width="2"/>
<rect x="1049.15" y="217.7" width="17.30" height="29.90" fill="#fff" stroke="#111" stroke-width="1"/>
<rect x="1049.15" y="234.50" width="17.30" height="4.6" fill="#000"/>
<line x1="1105.5" y1="109.2" x2="1105.5" y2="333.3" stroke="#000" stroke-width="1.1"/>
<path d="M1105.80,131.00 L1105.97,132.68 L1106.14,134.37 L1106.31,136.05 L1106.46,137.74 L1106.61,139.42 L1106.77,141.11 L1106.92,142.79 L1107.07,144.48 L1107.22,146.16 L1107.37,147.84 L1107.51,149.53 L1107.65,151.21 L1107.77,152.90 L1107.89,154.58 L1108.01,156.27 L1108.12,157.95 L1108.23,159.63 L1108.34,161.32 L1108.45,163.00 L1108.57,164.69 L1108.69,166.37 L1108.80,168.06 L1108.92,169.74 L1109.03,171.43 L1109.13,173.11 L1109.23,174.79 L1109.34,176.48 L1109.43,178.16 L1109.53,179.85 L1109.62,181.53 L1109.71,183.22 L1109.79,184.90 L1109.87,186.59 L1109.95,188.27 L1110.02,189.95 L1110.11,191.64 L1110.20,193.32 L1110.30,195.01 L1110.41,196.69 L1110.52,198.38 L1110.65,200.06 L1110.78,201.74 L1110.92,203.43 L1111.09,205.11 L1111.25,206.80 L1111.41,208.48 L1111.56,210.17 L1111.71,211.85 L1111.87,213.54 L1112.02,215.22 L1112.19,216.90 L1112.36,218.59 L1112.56,220.27 L1112.78,221.96 L1113.04,223.64 L1113.31,225.33 L1113.58,227.01 L1113.85,228.70 L1114.08,230.38 L1114.29,232.06 L1114.46,233.75 L1114.65,235.43 L1114.83,237.12 L1114.99,238.80 L1115.13,240.49 L1115.24,242.17 L1115.29,243.86 L1115.30,245.54 L1115.27,247.22 L1115.21,248.91 L1115.14,250.59 L1115.05,252.28 L1114.96,253.96 L1114.85,255.65 L1114.71,257.33 L1114.52,259.01 L1114.30,260.70 L1114.06,262.38 L1113.81,264.07 L1113.54,265.75 L1113.28,267.44 L1113.00,269.12 L1112.70,270.81 L1112.37,272.49 L1112.03,274.17 L1111.69,275.86 L1111.35,277.54 L1111.01,279.23 L1110.68,280.91 L1110.35,282.60 L1110.00,284.28 L1109.66,285.97 L1109.33,287.65 L1109.01,289.33 L1108.70,291.02 L1108.42,292.70 L1108.14,294.39 L1107.87,296.07 L1107.61,297.76 L1107.36,299.44 L1107.13,301.12 L1106.92,302.81 L1106.72,304.49 L1106.55,306.18 L1106.38,307.86 L1106.23,309.55 L1106.09,311.23 L1105.96,312.92 L1105.85,314.60 L1105.35,314.60 L1105.24,312.92 L1105.11,311.23 L1104.97,309.55 L1104.82,307.86 L1104.65,306.18 L1104.48,304.49 L1104.28,302.81 L1104.07,301.12 L1103.84,299.44 L1103.59,297.76 L1103.33,296.07 L1103.06,294.39 L1102.78,292.70 L1102.50,291.02 L1102.19,289.33 L1101.87,287.65 L1101.54,285.97 L1101.20,284.28 L1100.85,282.60 L1100.52,280.91 L1100.19,279.23 L1099.85,277.54 L1099.51,275.86 L1099.17,274.17 L1098.83,272.49 L1098.50,270.81 L1098.20,269.12 L1097.92,267.44 L1097.66,265.75 L1097.39,264.07 L1097.14,262.38 L1096.90,260.70 L1096.68,259.01 L1096.49,257.33 L1096.35,255.65 L1096.24,253.96 L1096.15,252.28 L1096.06,250.59 L1095.99,248.91 L1095.93,247.22 L1095.90,245.54 L1095.91,243.86 L1095.96,242.17 L1096.07,240.49 L1096.21,238.80 L1096.37,237.12 L1096.55,235.43 L1096.74,233.75 L1096.91,232.06 L1097.12,230.38 L1097.35,228.70 L1097.62,227.01 L1097.89,225.33 L1098.16,223.64 L1098.42,221.96 L1098.64,220.27 L1098.84,218.59 L1099.01,216.90 L1099.18,215.22 L1099.33,213.54 L1099.49,211.85 L1099.64,210.17 L1099.79,208.48 L1099.95,206.80 L1100.11,205.11 L1100.28,203.43 L1100.42,201.74 L1100.55,200.06 L1100.68,198.38 L1100.79,196.69 L1100.90,195.01 L1101.00,193.32 L1101.09,191.64 L1101.18,189.95 L1101.25,188.27 L1101.33,186.59 L1101.41,184.90 L1101.49,183.22 L1101.58,181.53 L1101.67,179.85 L1101.77,178.16 L1101.86,176.48 L1101.97,174.79 L1102.07,173.11 L1102.17,171.43 L1102.28,169.74 L1102.40,168.06 L1102.51,166.37 L1102.63,164.69 L1102.75,163.00 L1102.86,161.32 L1102.97,159.63 L1103.08,157.95 L1103.19,156.27 L1103.31,154.58 L1103.43,152.90 L1103.55,151.21 L1103.69,149.53 L1103.83,147.84 L1103.98,146.16 L1104.13,144.48 L1104.28,142.79 L1104.43,141.11 L1104.59,139.42 L1104.74,137.74 L1104.89,136.05 L1105.06,134.37 L1105.23,132.68 L1105.40,131.00 Z" fill="#E9623E" stroke="#0a0a0a" stroke-width="1.3" stroke-linejoin="round"/>
<path d="M1105.76,131.00 L1105.91,132.68 L1106.04,134.37 L1106.18,136.05 L1106.31,137.74 L1106.43,139.42 L1106.56,141.11 L1106.68,142.79 L1106.80,144.48 L1106.93,146.16 L1107.05,147.84 L1107.17,149.53 L1107.28,151.21 L1107.38,152.90 L1107.48,154.58 L1107.58,156.27 L1107.67,157.95 L1107.76,159.63 L1107.85,161.32 L1107.94,163.00 L1108.04,164.69 L1108.13,166.37 L1108.23,168.06 L1108.32,169.74 L1108.41,171.43 L1108.50,173.11 L1108.58,174.79 L1108.66,176.48 L1108.74,178.16 L1108.82,179.85 L1108.90,181.53 L1108.97,183.22 L1109.04,184.90 L1109.10,186.59 L1109.16,188.27 L1109.23,189.95 L1109.29,191.64 L1109.37,193.32 L1109.45,195.01 L1109.54,196.69 L1109.64,198.38 L1109.74,200.06 L1109.85,201.74 L1109.97,203.43 L1110.10,205.11 L1110.23,206.80 L1110.36,208.48 L1110.49,210.17 L1110.61,211.85 L1110.74,213.54 L1110.87,215.22 L1111.00,216.90 L1111.15,218.59 L1111.30,220.27 L1111.49,221.96 L1111.70,223.64 L1111.92,225.33 L1112.15,227.01 L1112.36,228.70 L1112.56,230.38 L1112.72,232.06 L1112.87,233.75 L1113.02,235.43 L1113.17,237.12 L1113.30,238.80 L1113.42,240.49 L1113.50,242.17 L1113.55,243.86 L1113.55,245.54 L1113.53,247.22 L1113.48,248.91 L1113.42,250.59 L1113.35,252.28 L1113.27,253.96 L1113.19,255.65 L1113.07,257.33 L1112.91,259.01 L1112.74,260.70 L1112.54,262.38 L1112.33,264.07 L1112.11,265.75 L1111.90,267.44 L1111.67,269.12 L1111.42,270.81 L1111.15,272.49 L1110.88,274.17 L1110.59,275.86 L1110.31,277.54 L1110.04,279.23 L1109.77,280.91 L1109.49,282.60 L1109.21,284.28 L1108.93,285.97 L1108.66,287.65 L1108.39,289.33 L1108.14,291.02 L1107.91,292.70 L1107.68,294.39 L1107.46,296.07 L1107.25,297.76 L1107.05,299.44 L1106.86,301.12 L1106.68,302.81 L1106.52,304.49 L1106.38,306.18 L1106.24,307.86 L1106.11,309.55 L1106.00,311.23 L1105.90,312.92 L1105.80,314.60 L1105.39,314.60 L1105.30,312.92 L1105.20,311.23 L1105.09,309.55 L1104.96,307.86 L1104.82,306.18 L1104.68,304.49 L1104.52,302.81 L1104.34,301.12 L1104.15,299.44 L1103.95,297.76 L1103.74,296.07 L1103.52,294.39 L1103.29,292.70 L1103.06,291.02 L1102.81,289.33 L1102.54,287.65 L1102.27,285.97 L1101.99,284.28 L1101.71,282.60 L1101.43,280.91 L1101.16,279.23 L1100.89,277.54 L1100.61,275.86 L1100.32,274.17 L1100.05,272.49 L1099.78,270.81 L1099.53,269.12 L1099.30,267.44 L1099.09,265.75 L1098.87,264.07 L1098.66,262.38 L1098.46,260.70 L1098.29,259.01 L1098.13,257.33 L1098.01,255.65 L1097.93,253.96 L1097.85,252.28 L1097.78,250.59 L1097.72,248.91 L1097.67,247.22 L1097.65,245.54 L1097.65,243.86 L1097.70,242.17 L1097.78,240.49 L1097.90,238.80 L1098.03,237.12 L1098.18,235.43 L1098.33,233.75 L1098.48,232.06 L1098.64,230.38 L1098.84,228.70 L1099.05,227.01 L1099.28,225.33 L1099.50,223.64 L1099.71,221.96 L1099.90,220.27 L1100.05,218.59 L1100.20,216.90 L1100.33,215.22 L1100.46,213.54 L1100.59,211.85 L1100.71,210.17 L1100.84,208.48 L1100.97,206.80 L1101.10,205.11 L1101.23,203.43 L1101.35,201.74 L1101.46,200.06 L1101.56,198.38 L1101.66,196.69 L1101.75,195.01 L1101.83,193.32 L1101.91,191.64 L1101.97,189.95 L1102.04,188.27 L1102.10,186.59 L1102.16,184.90 L1102.23,183.22 L1102.30,181.53 L1102.38,179.85 L1102.46,178.16 L1102.54,176.48 L1102.62,174.79 L1102.70,173.11 L1102.79,171.43 L1102.88,169.74 L1102.97,168.06 L1103.07,166.37 L1103.16,164.69 L1103.26,163.00 L1103.35,161.32 L1103.44,159.63 L1103.53,157.95 L1103.62,156.27 L1103.72,154.58 L1103.82,152.90 L1103.92,151.21 L1104.03,149.53 L1104.15,147.84 L1104.27,146.16 L1104.40,144.48 L1104.52,142.79 L1104.64,141.11 L1104.77,139.42 L1104.89,137.74 L1105.02,136.05 L1105.16,134.37 L1105.29,132.68 L1105.44,131.00 Z" fill="none" stroke="#7a2a12" stroke-width="0.8" stroke-opacity="0.8"/>
<line x1="1105.6" y1="169.2" x2="1105.6" y2="272.3" stroke="#000" stroke-width="2"/>
<rect x="1099.85" y="207.2" width="11.50" height="53.80" fill="#fff" stroke="#111" stroke-width="1"/>
<rect x="1099.85" y="240.60" width="11.50" height="4.6" fill="#000"/>
<line x1="1153.5" y1="143.5" x2="1153.5" y2="251.2" stroke="#000" stroke-width="1.1"/>
<path d="M1153.65,157.20 L1153.69,158.06 L1153.76,158.92 L1153.85,159.79 L1153.96,160.65 L1154.08,161.51 L1154.25,162.37 L1154.46,163.24 L1154.67,164.10 L1154.85,164.96 L1155.01,165.82 L1155.14,166.69 L1155.28,167.55 L1155.42,168.41 L1155.57,169.27 L1155.75,170.14 L1155.97,171.00 L1156.27,171.86 L1156.69,172.72 L1157.16,173.59 L1157.63,174.45 L1158.13,175.31 L1158.66,176.17 L1159.18,177.03 L1159.69,177.90 L1160.19,178.76 L1160.69,179.62 L1161.19,180.48 L1161.69,181.35 L1162.20,182.21 L1162.70,183.07 L1163.19,183.93 L1163.67,184.80 L1164.15,185.66 L1164.61,186.52 L1165.05,187.38 L1165.48,188.25 L1165.89,189.11 L1166.27,189.97 L1166.64,190.83 L1166.99,191.70 L1167.33,192.56 L1167.67,193.42 L1168.03,194.28 L1168.37,195.14 L1168.60,196.01 L1168.74,196.87 L1168.84,197.73 L1168.93,198.59 L1169.02,199.46 L1169.16,200.32 L1169.37,201.18 L1169.59,202.04 L1169.70,202.91 L1169.63,203.77 L1169.44,204.63 L1169.19,205.49 L1168.96,206.36 L1168.75,207.22 L1168.52,208.08 L1168.27,208.94 L1168.00,209.81 L1167.67,210.67 L1167.31,211.53 L1166.94,212.39 L1166.58,213.26 L1166.21,214.12 L1165.83,214.98 L1165.45,215.84 L1165.05,216.70 L1164.65,217.57 L1164.23,218.43 L1163.80,219.29 L1163.35,220.15 L1162.90,221.02 L1162.46,221.88 L1162.04,222.74 L1161.62,223.60 L1161.21,224.47 L1160.79,225.33 L1160.37,226.19 L1159.95,227.05 L1159.54,227.92 L1159.13,228.78 L1158.73,229.64 L1158.35,230.50 L1158.00,231.37 L1157.66,232.23 L1157.36,233.09 L1157.07,233.95 L1156.83,234.81 L1156.60,235.68 L1156.39,236.54 L1156.20,237.40 L1156.01,238.26 L1155.81,239.13 L1155.62,239.99 L1155.45,240.85 L1155.28,241.71 L1155.14,242.58 L1155.02,243.44 L1154.93,244.30 L1154.85,245.16 L1154.79,246.03 L1154.73,246.89 L1154.68,247.75 L1154.61,248.61 L1154.53,249.48 L1154.43,250.34 L1154.30,251.20 L1152.50,251.20 L1152.37,250.34 L1152.27,249.48 L1152.19,248.61 L1152.12,247.75 L1152.07,246.89 L1152.01,246.03 L1151.95,245.16 L1151.87,244.30 L1151.78,243.44 L1151.66,242.58 L1151.52,241.71 L1151.35,240.85 L1151.18,239.99 L1150.99,239.13 L1150.79,238.26 L1150.60,237.40 L1150.41,236.54 L1150.20,235.68 L1149.97,234.81 L1149.73,233.95 L1149.44,233.09 L1149.14,232.23 L1148.80,231.37 L1148.45,230.50 L1148.07,229.64 L1147.67,228.78 L1147.26,227.92 L1146.85,227.05 L1146.43,226.19 L1146.01,225.33 L1145.59,224.47 L1145.18,223.60 L1144.76,222.74 L1144.34,221.88 L1143.90,221.02 L1143.45,220.15 L1143.00,219.29 L1142.57,218.43 L1142.15,217.57 L1141.75,216.70 L1141.35,215.84 L1140.97,214.98 L1140.59,214.12 L1140.22,213.26 L1139.86,212.39 L1139.49,211.53 L1139.13,210.67 L1138.80,209.81 L1138.53,208.94 L1138.28,208.08 L1138.05,207.22 L1137.84,206.36 L1137.61,205.49 L1137.36,204.63 L1137.17,203.77 L1137.10,202.91 L1137.21,202.04 L1137.43,201.18 L1137.64,200.32 L1137.78,199.46 L1137.87,198.59 L1137.96,197.73 L1138.06,196.87 L1138.20,196.01 L1138.43,195.14 L1138.77,194.28 L1139.13,193.42 L1139.47,192.56 L1139.81,191.70 L1140.16,190.83 L1140.53,189.97 L1140.91,189.11 L1141.32,188.25 L1141.75,187.38 L1142.19,186.52 L1142.65,185.66 L1143.13,184.80 L1143.61,183.93 L1144.10,183.07 L1144.60,182.21 L1145.11,181.35 L1145.61,180.48 L1146.11,179.62 L1146.61,178.76 L1147.11,177.90 L1147.62,177.03 L1148.14,176.17 L1148.67,175.31 L1149.17,174.45 L1149.64,173.59 L1150.11,172.72 L1150.53,171.86 L1150.83,171.00 L1151.05,170.14 L1151.23,169.27 L1151.38,168.41 L1151.52,167.55 L1151.66,166.69 L1151.79,165.82 L1151.95,164.96 L1152.13,164.10 L1152.34,163.24 L1152.55,162.37 L1152.72,161.51 L1152.84,160.65 L1152.95,159.79 L1153.04,158.92 L1153.11,158.06 L1153.15,157.20 Z" fill="#F0B666" stroke="#0a0a0a" stroke-width="1.3" stroke-linejoin="round"/>
<path d="M1153.61,157.20 L1153.64,158.06 L1153.70,158.92 L1153.77,159.79 L1153.86,160.65 L1153.96,161.51 L1154.10,162.37 L1154.27,163.24 L1154.44,164.10 L1154.59,164.96 L1154.72,165.82 L1154.83,166.69 L1154.94,167.55 L1155.05,168.41 L1155.18,169.27 L1155.33,170.14 L1155.51,171.00 L1155.76,171.86 L1156.10,172.72 L1156.49,173.59 L1156.87,174.45 L1157.28,175.31 L1157.71,176.17 L1158.14,177.03 L1158.56,177.90 L1158.97,178.76 L1159.38,179.62 L1159.79,180.48 L1160.20,181.35 L1160.62,182.21 L1161.03,183.07 L1161.43,183.93 L1161.82,184.80 L1162.21,185.66 L1162.59,186.52 L1162.95,187.38 L1163.30,188.25 L1163.64,189.11 L1163.96,189.97 L1164.26,190.83 L1164.54,191.70 L1164.82,192.56 L1165.10,193.42 L1165.40,194.28 L1165.67,195.14 L1165.87,196.01 L1165.98,196.87 L1166.06,197.73 L1166.13,198.59 L1166.21,199.46 L1166.32,200.32 L1166.50,201.18 L1166.67,202.04 L1166.76,202.91 L1166.71,203.77 L1166.55,204.63 L1166.35,205.49 L1166.16,206.36 L1165.99,207.22 L1165.80,208.08 L1165.60,208.94 L1165.37,209.81 L1165.10,210.67 L1164.81,211.53 L1164.51,212.39 L1164.21,213.26 L1163.91,214.12 L1163.59,214.98 L1163.28,215.84 L1162.95,216.70 L1162.62,217.57 L1162.28,218.43 L1161.93,219.29 L1161.56,220.15 L1161.19,221.02 L1160.83,221.88 L1160.48,222.74 L1160.14,223.60 L1159.80,224.47 L1159.46,225.33 L1159.12,226.19 L1158.77,227.05 L1158.43,227.92 L1158.10,228.78 L1157.77,229.64 L1157.46,230.50 L1157.17,231.37 L1156.90,232.23 L1156.64,233.09 L1156.41,233.95 L1156.21,234.81 L1156.03,235.68 L1155.86,236.54 L1155.70,237.40 L1155.54,238.26 L1155.38,239.13 L1155.22,239.99 L1155.08,240.85 L1154.94,241.71 L1154.82,242.58 L1154.73,243.44 L1154.65,244.30 L1154.59,245.16 L1154.54,246.03 L1154.49,246.89 L1154.45,247.75 L1154.39,248.61 L1154.33,249.48 L1154.25,250.34 L1154.14,251.20 L1152.66,251.20 L1152.55,250.34 L1152.47,249.48 L1152.41,248.61 L1152.35,247.75 L1152.31,246.89 L1152.26,246.03 L1152.21,245.16 L1152.15,244.30 L1152.07,243.44 L1151.98,242.58 L1151.86,241.71 L1151.72,240.85 L1151.58,239.99 L1151.42,239.13 L1151.26,238.26 L1151.10,237.40 L1150.94,236.54 L1150.77,235.68 L1150.59,234.81 L1150.39,233.95 L1150.16,233.09 L1149.90,232.23 L1149.63,231.37 L1149.34,230.50 L1149.03,229.64 L1148.70,228.78 L1148.37,227.92 L1148.03,227.05 L1147.68,226.19 L1147.34,225.33 L1147.00,224.47 L1146.66,223.60 L1146.32,222.74 L1145.97,221.88 L1145.61,221.02 L1145.24,220.15 L1144.87,219.29 L1144.52,218.43 L1144.18,217.57 L1143.85,216.70 L1143.52,215.84 L1143.21,214.98 L1142.89,214.12 L1142.59,213.26 L1142.29,212.39 L1141.99,211.53 L1141.70,210.67 L1141.43,209.81 L1141.20,208.94 L1141.00,208.08 L1140.81,207.22 L1140.64,206.36 L1140.45,205.49 L1140.25,204.63 L1140.09,203.77 L1140.04,202.91 L1140.13,202.04 L1140.30,201.18 L1140.48,200.32 L1140.59,199.46 L1140.67,198.59 L1140.74,197.73 L1140.82,196.87 L1140.93,196.01 L1141.13,195.14 L1141.40,194.28 L1141.70,193.42 L1141.98,192.56 L1142.26,191.70 L1142.54,190.83 L1142.84,189.97 L1143.16,189.11 L1143.50,188.25 L1143.85,187.38 L1144.21,186.52 L1144.59,185.66 L1144.98,184.80 L1145.37,183.93 L1145.77,183.07 L1146.18,182.21 L1146.60,181.35 L1147.01,180.48 L1147.42,179.62 L1147.83,178.76 L1148.24,177.90 L1148.66,177.03 L1149.09,176.17 L1149.52,175.31 L1149.93,174.45 L1150.31,173.59 L1150.70,172.72 L1151.04,171.86 L1151.29,171.00 L1151.47,170.14 L1151.62,169.27 L1151.75,168.41 L1151.86,167.55 L1151.97,166.69 L1152.08,165.82 L1152.21,164.96 L1152.36,164.10 L1152.53,163.24 L1152.70,162.37 L1152.84,161.51 L1152.94,160.65 L1153.03,159.79 L1153.10,158.92 L1153.16,158.06 L1153.20,157.20 Z" fill="none" stroke="#8a5a1a" stroke-width="0.8" stroke-opacity="0.8"/>
<line x1="1153.4" y1="167.2" x2="1153.4" y2="246.5" stroke="#000" stroke-width="2"/>
<rect x="1144.25" y="192.5" width="18.30" height="23.70" fill="#fff" stroke="#111" stroke-width="1"/>
<rect x="1144.25" y="203.40" width="18.30" height="4.6" fill="#000"/>
<path d="M1152.6000000000001,260.9 L1154.2,260.9 L1153.8000000000002,268 L1153.0,268 Z" fill="#F0B666" stroke="#6b4a1a" stroke-width="0.6"/>
<line x1="1153.4" y1="266.5" x2="1153.4" y2="275.3" stroke="#111" stroke-width="1.1"/>
<line x1="1153.4" y1="283.5" x2="1153.4" y2="302.7" stroke="#111" stroke-width="1.1"/>
<line x1="1201.5" y1="189.3" x2="1201.5" y2="275.0" stroke="#000" stroke-width="1.1"/>
<path d="M1201.65,195.80 L1201.78,196.51 L1201.92,197.22 L1202.07,197.92 L1202.23,198.63 L1202.39,199.34 L1202.57,200.05 L1202.78,200.76 L1203.02,201.47 L1203.30,202.17 L1203.57,202.88 L1203.83,203.59 L1204.08,204.30 L1204.34,205.01 L1204.58,205.72 L1204.80,206.42 L1204.99,207.13 L1205.16,207.84 L1205.32,208.55 L1205.46,209.26 L1205.58,209.97 L1205.68,210.67 L1205.78,211.38 L1205.87,212.09 L1205.97,212.80 L1206.08,213.51 L1206.19,214.21 L1206.30,214.92 L1206.43,215.63 L1206.57,216.34 L1206.72,217.05 L1206.88,217.76 L1207.07,218.46 L1207.29,219.17 L1207.58,219.88 L1207.96,220.59 L1208.40,221.30 L1208.94,222.01 L1209.56,222.71 L1210.11,223.42 L1210.60,224.13 L1211.03,224.84 L1211.31,225.55 L1211.49,226.26 L1211.64,226.96 L1211.77,227.67 L1211.85,228.38 L1211.90,229.09 L1211.94,229.80 L1211.96,230.50 L1211.98,231.21 L1212.00,231.92 L1212.01,232.63 L1212.02,233.34 L1212.04,234.05 L1212.05,234.75 L1212.08,235.46 L1212.11,236.17 L1212.15,236.88 L1212.21,237.59 L1212.28,238.30 L1212.36,239.00 L1212.44,239.71 L1212.53,240.42 L1212.61,241.13 L1212.69,241.84 L1212.76,242.54 L1212.85,243.25 L1212.97,243.96 L1213.17,244.67 L1213.77,245.38 L1214.80,246.09 L1216.25,246.79 L1217.76,247.50 L1218.67,248.21 L1219.57,248.92 L1220.32,249.63 L1220.90,250.34 L1221.29,251.04 L1221.50,251.75 L1221.43,252.46 L1221.24,253.17 L1220.82,253.88 L1220.26,254.59 L1219.50,255.29 L1218.65,256.00 L1217.69,256.71 L1216.67,257.42 L1215.62,258.13 L1214.54,258.83 L1213.45,259.54 L1212.34,260.25 L1211.21,260.96 L1210.19,261.67 L1209.23,262.38 L1208.27,263.08 L1207.36,263.79 L1206.55,264.50 L1205.76,265.21 L1204.99,265.92 L1204.25,266.63 L1203.57,267.33 L1203.00,268.04 L1202.56,268.75 L1202.22,269.46 L1202.00,270.17 L1201.84,270.88 L1201.74,271.58 L1201.68,272.29 L1201.65,273.00 L1201.15,273.00 L1201.12,272.29 L1201.06,271.58 L1200.96,270.88 L1200.80,270.17 L1200.58,269.46 L1200.24,268.75 L1199.80,268.04 L1199.23,267.33 L1198.55,266.63 L1197.81,265.92 L1197.04,265.21 L1196.25,264.50 L1195.44,263.79 L1194.53,263.08 L1193.57,262.38 L1192.61,261.67 L1191.59,260.96 L1190.46,260.25 L1189.35,259.54 L1188.26,258.83 L1187.18,258.13 L1186.13,257.42 L1185.11,256.71 L1184.15,256.00 L1183.30,255.29 L1182.54,254.59 L1181.98,253.88 L1181.56,253.17 L1181.37,252.46 L1181.30,251.75 L1181.51,251.04 L1181.90,250.34 L1182.48,249.63 L1183.23,248.92 L1184.13,248.21 L1185.04,247.50 L1186.55,246.79 L1188.00,246.09 L1189.03,245.38 L1189.63,244.67 L1189.83,243.96 L1189.95,243.25 L1190.04,242.54 L1190.11,241.84 L1190.19,241.13 L1190.27,240.42 L1190.36,239.71 L1190.44,239.00 L1190.52,238.30 L1190.59,237.59 L1190.65,236.88 L1190.69,236.17 L1190.72,235.46 L1190.75,234.75 L1190.76,234.05 L1190.78,233.34 L1190.79,232.63 L1190.80,231.92 L1190.82,231.21 L1190.84,230.50 L1190.86,229.80 L1190.90,229.09 L1190.95,228.38 L1191.03,227.67 L1191.16,226.96 L1191.31,226.26 L1191.49,225.55 L1191.77,224.84 L1192.20,224.13 L1192.69,223.42 L1193.24,222.71 L1193.86,222.01 L1194.40,221.30 L1194.84,220.59 L1195.22,219.88 L1195.51,219.17 L1195.73,218.46 L1195.92,217.76 L1196.08,217.05 L1196.23,216.34 L1196.37,215.63 L1196.50,214.92 L1196.61,214.21 L1196.72,213.51 L1196.83,212.80 L1196.93,212.09 L1197.02,211.38 L1197.12,210.67 L1197.22,209.97 L1197.34,209.26 L1197.48,208.55 L1197.64,207.84 L1197.81,207.13 L1198.00,206.42 L1198.22,205.72 L1198.46,205.01 L1198.72,204.30 L1198.97,203.59 L1199.23,202.88 L1199.50,202.17 L1199.78,201.47 L1200.02,200.76 L1200.23,200.05 L1200.41,199.34 L1200.57,198.63 L1200.73,197.92 L1200.88,197.22 L1201.02,196.51 L1201.15,195.80 Z" fill="#7BB2D6" stroke="#0a0a0a" stroke-width="1.3" stroke-linejoin="round"/>
<path d="M1201.61,195.80 L1201.71,196.51 L1201.83,197.22 L1201.95,197.92 L1202.08,198.63 L1202.21,199.34 L1202.36,200.05 L1202.53,200.76 L1202.73,201.47 L1202.95,202.17 L1203.18,202.88 L1203.39,203.59 L1203.60,204.30 L1203.81,205.01 L1204.00,205.72 L1204.18,206.42 L1204.34,207.13 L1204.48,207.84 L1204.61,208.55 L1204.73,209.26 L1204.83,209.97 L1204.91,210.67 L1204.99,211.38 L1205.07,212.09 L1205.15,212.80 L1205.24,213.51 L1205.33,214.21 L1205.42,214.92 L1205.52,215.63 L1205.64,216.34 L1205.76,217.05 L1205.89,217.76 L1206.05,218.46 L1206.23,219.17 L1206.47,219.88 L1206.78,220.59 L1207.14,221.30 L1207.58,222.01 L1208.09,222.71 L1208.55,223.42 L1208.94,224.13 L1209.29,224.84 L1209.53,225.55 L1209.68,226.26 L1209.80,226.96 L1209.90,227.67 L1209.97,228.38 L1210.01,229.09 L1210.04,229.80 L1210.06,230.50 L1210.08,231.21 L1210.09,231.92 L1210.10,232.63 L1210.11,233.34 L1210.12,234.05 L1210.14,234.75 L1210.16,235.46 L1210.18,236.17 L1210.22,236.88 L1210.27,237.59 L1210.32,238.30 L1210.39,239.00 L1210.46,239.71 L1210.53,240.42 L1210.60,241.13 L1210.66,241.84 L1210.71,242.54 L1210.78,243.25 L1210.89,243.96 L1211.05,244.67 L1211.54,245.38 L1212.39,246.09 L1213.58,246.79 L1214.82,247.50 L1215.56,248.21 L1216.30,248.92 L1216.92,249.63 L1217.39,250.34 L1217.71,251.04 L1217.88,251.75 L1217.82,252.46 L1217.67,253.17 L1217.33,253.88 L1216.86,254.59 L1216.24,255.29 L1215.55,256.00 L1214.76,256.71 L1213.92,257.42 L1213.06,258.13 L1212.18,258.83 L1211.28,259.54 L1210.37,260.25 L1209.45,260.96 L1208.61,261.67 L1207.82,262.38 L1207.03,263.08 L1206.29,263.79 L1205.62,264.50 L1204.97,265.21 L1204.34,265.92 L1203.74,266.63 L1203.18,267.33 L1202.71,268.04 L1202.35,268.75 L1202.07,269.46 L1201.89,270.17 L1201.76,270.88 L1201.68,271.58 L1201.63,272.29 L1201.61,273.00 L1201.20,273.00 L1201.17,272.29 L1201.12,271.58 L1201.04,270.88 L1200.91,270.17 L1200.73,269.46 L1200.45,268.75 L1200.09,268.04 L1199.62,267.33 L1199.06,266.63 L1198.46,265.92 L1197.83,265.21 L1197.18,264.50 L1196.51,263.79 L1195.77,263.08 L1194.98,262.38 L1194.19,261.67 L1193.35,260.96 L1192.43,260.25 L1191.52,259.54 L1190.62,258.83 L1189.74,258.13 L1188.88,257.42 L1188.04,256.71 L1187.25,256.00 L1186.56,255.29 L1185.94,254.59 L1185.47,253.88 L1185.13,253.17 L1184.98,252.46 L1184.92,251.75 L1185.09,251.04 L1185.41,250.34 L1185.88,249.63 L1186.50,248.92 L1187.24,248.21 L1187.98,247.50 L1189.22,246.79 L1190.41,246.09 L1191.26,245.38 L1191.75,244.67 L1191.91,243.96 L1192.02,243.25 L1192.09,242.54 L1192.14,241.84 L1192.20,241.13 L1192.27,240.42 L1192.34,239.71 L1192.41,239.00 L1192.48,238.30 L1192.53,237.59 L1192.58,236.88 L1192.62,236.17 L1192.64,235.46 L1192.66,234.75 L1192.68,234.05 L1192.69,233.34 L1192.70,232.63 L1192.71,231.92 L1192.72,231.21 L1192.74,230.50 L1192.76,229.80 L1192.79,229.09 L1192.83,228.38 L1192.90,227.67 L1193.00,226.96 L1193.12,226.26 L1193.27,225.55 L1193.51,224.84 L1193.86,224.13 L1194.25,223.42 L1194.71,222.71 L1195.22,222.01 L1195.66,221.30 L1196.02,220.59 L1196.33,219.88 L1196.57,219.17 L1196.75,218.46 L1196.91,217.76 L1197.04,217.05 L1197.16,216.34 L1197.28,215.63 L1197.38,214.92 L1197.47,214.21 L1197.56,213.51 L1197.65,212.80 L1197.73,212.09 L1197.81,211.38 L1197.89,210.67 L1197.97,209.97 L1198.07,209.26 L1198.19,208.55 L1198.32,207.84 L1198.46,207.13 L1198.62,206.42 L1198.80,205.72 L1198.99,205.01 L1199.20,204.30 L1199.41,203.59 L1199.62,202.88 L1199.85,202.17 L1200.07,201.47 L1200.27,200.76 L1200.44,200.05 L1200.59,199.34 L1200.72,198.63 L1200.85,197.92 L1200.97,197.22 L1201.09,196.51 L1201.20,195.80 Z" fill="none" stroke="#2f5f85" stroke-width="0.8" stroke-opacity="0.8"/>
<line x1="1201.4" y1="209" x2="1201.4" y2="255" stroke="#000" stroke-width="2"/>
<rect x="1189.35" y="225.2" width="24.10" height="27.80" fill="#fff" stroke="#111" stroke-width="1"/>
<rect x="1189.35" y="246.00" width="24.10" height="4.6" fill="#000"/>
<line x1="100.56" y1="199.75" x2="1345.0" y2="199.75" stroke="#000" stroke-width="2" stroke-dasharray="7.2 2.1 2.9 2.24"/>
<rect x="100.0" y="14.0" width="1245.0" height="371.7" fill="none" stroke="#222" stroke-width="1.8"/>
<line x1="100.0" y1="339.23" x2="113.5" y2="339.23" stroke="#222" stroke-width="1.6"/>
<line x1="1345.0" y1="339.23" x2="1331.5" y2="339.23" stroke="#222" stroke-width="1.6"/>
<line x1="100.0" y1="292.77" x2="113.5" y2="292.77" stroke="#222" stroke-width="1.6"/>
<line x1="1345.0" y1="292.77" x2="1331.5" y2="292.77" stroke="#222" stroke-width="1.6"/>
<line x1="100.0" y1="246.31" x2="113.5" y2="246.31" stroke="#222" stroke-width="1.6"/>
<line x1="1345.0" y1="246.31" x2="1331.5" y2="246.31" stroke="#222" stroke-width="1.6"/>
<line x1="100.0" y1="199.85" x2="113.5" y2="199.85" stroke="#222" stroke-width="1.6"/>
<line x1="1345.0" y1="199.85" x2="1331.5" y2="199.85" stroke="#222" stroke-width="1.6"/>
<line x1="100.0" y1="153.39" x2="113.5" y2="153.39" stroke="#222" stroke-width="1.6"/>
<line x1="1345.0" y1="153.39" x2="1331.5" y2="153.39" stroke="#222" stroke-width="1.6"/>
<line x1="100.0" y1="106.93" x2="113.5" y2="106.93" stroke="#222" stroke-width="1.6"/>
<line x1="1345.0" y1="106.93" x2="1331.5" y2="106.93" stroke="#222" stroke-width="1.6"/>
<line x1="100.0" y1="60.47" x2="113.5" y2="60.47" stroke="#222" stroke-width="1.6"/>
<line x1="1345.0" y1="60.47" x2="1331.5" y2="60.47" stroke="#222" stroke-width="1.6"/>
<line x1="267.5" y1="14.0" x2="267.5" y2="27.0" stroke="#222" stroke-width="1.6"/>
<line x1="267.5" y1="385.7" x2="267.5" y2="372.7" stroke="#222" stroke-width="1.6"/>
<line x1="554.9" y1="14.0" x2="554.9" y2="27.0" stroke="#222" stroke-width="1.6"/>
<line x1="554.9" y1="385.7" x2="554.9" y2="372.7" stroke="#222" stroke-width="1.6"/>
<line x1="842.3" y1="14.0" x2="842.3" y2="27.0" stroke="#222" stroke-width="1.6"/>
<line x1="842.3" y1="385.7" x2="842.3" y2="372.7" stroke="#222" stroke-width="1.6"/>
<line x1="1129.5" y1="14.0" x2="1129.5" y2="27.0" stroke="#222" stroke-width="1.6"/>
<line x1="1129.5" y1="385.7" x2="1129.5" y2="372.7" stroke="#222" stroke-width="1.6"/>
<text transform="translate(51.2,396.39) scale(1,1.025)" font-size="30" font-family="Liberation Serif, serif" font-weight="bold" fill="#1c1c1c" style="font-kerning:none">-80</text>
<text transform="translate(51.2,349.93) scale(1,1.025)" font-size="30" font-family="Liberation Serif, serif" font-weight="bold" fill="#1c1c1c" style="font-kerning:none">-60</text>
<text transform="translate(51.2,303.47) scale(1,1.025)" font-size="30" font-family="Liberation Serif, serif" font-weight="bold" fill="#1c1c1c" style="font-kerning:none">-40</text>
<text transform="translate(51.2,257.01) scale(1,1.025)" font-size="30" font-family="Liberation Serif, serif" font-weight="bold" fill="#1c1c1c" style="font-kerning:none">-20</text>
<text transform="translate(68.3,210.55) scale(1,1.025)" font-size="30" text-anchor="middle" font-family="Liberation Serif, serif" font-weight="bold" fill="#1c1c1c" style="font-kerning:none">0</text>
<text transform="translate(68.3,164.09) scale(1,1.025)" font-size="30" text-anchor="middle" font-family="Liberation Serif, serif" font-weight="bold" fill="#1c1c1c" style="font-kerning:none">20</text>
<text transform="translate(68.3,117.63) scale(1,1.025)" font-size="30" text-anchor="middle" font-family="Liberation Serif, serif" font-weight="bold" fill="#1c1c1c" style="font-kerning:none">40</text>
<text transform="translate(68.3,71.17) scale(1,1.025)" font-size="30" text-anchor="middle" font-family="Liberation Serif, serif" font-weight="bold" fill="#1c1c1c" style="font-kerning:none">60</text>
<text transform="translate(68.3,24.71) scale(1,1.025)" font-size="30" text-anchor="middle" font-family="Liberation Serif, serif" font-weight="bold" fill="#1c1c1c" style="font-kerning:none">80</text>
<text transform="translate(267.1,423.3) scale(1,1.025)" font-size="30" text-anchor="middle" font-family="Liberation Serif, serif" font-weight="bold" fill="#1c1c1c" style="font-kerning:none">0 - 20</text>
<text transform="translate(554.5,423.3) scale(1,1.025)" font-size="30" text-anchor="middle" font-family="Liberation Serif, serif" font-weight="bold" fill="#1c1c1c" style="font-kerning:none">20 - 40</text>
<text transform="translate(841.9,423.3) scale(1,1.025)" font-size="30" text-anchor="middle" font-family="Liberation Serif, serif" font-weight="bold" fill="#1c1c1c" style="font-kerning:none">40 - 60</text>
<text transform="translate(1129.1,423.3) scale(1,1.025)" font-size="30" text-anchor="middle" font-family="Liberation Serif, serif" font-weight="bold" fill="#1c1c1c" style="font-kerning:none">60 - 80</text>
<text x="582.6" y="471.9" font-size="34" textLength="150.6" lengthAdjust="spacingAndGlyphs" font-family="Liberation Serif, serif" font-weight="bold" fill="#1c1c1c" style="font-kerning:none">True LCC</text>
<text x="739.4" y="471.9" font-size="33.4" font-family="Liberation Serif, serif" font-weight="bold" fill="#1c1c1c" style="font-kerning:none">(μg/cm</text>
<text x="838.4" y="454.6" font-size="26" font-family="Liberation Serif, serif" font-weight="bold" fill="#1c1c1c" style="font-kerning:none">2</text>
<text x="852.4" y="471.9" font-size="33.4" font-family="Liberation Serif, serif" font-weight="bold" fill="#1c1c1c" style="font-kerning:none">)</text>
<text transform="translate(37.9,303.6) rotate(-90) scale(1.045,1)" font-size="34.4" stroke="#1c1c1c" stroke-width="0.45" font-family="Liberation Serif, serif" font-weight="bold" fill="#1c1c1c" style="font-kerning:none">bias</text>
<text transform="translate(39.5,227.1) rotate(-90)" font-size="33.4" font-family="Liberation Serif, serif" font-weight="bold" fill="#1c1c1c" style="font-kerning:none">(μg/cm</text>
<text transform="translate(22.4,127.9) rotate(-90)" font-size="25.5" font-family="Liberation Serif, serif" font-weight="bold" fill="#1c1c1c" style="font-kerning:none">2</text>
<text transform="translate(39.5,114.6) rotate(-90)" font-size="33.4" font-family="Liberation Serif, serif" font-weight="bold" fill="#1c1c1c" style="font-kerning:none">)</text>
<rect x="539.3" y="33.2" width="50" height="19.2" fill="#A61B2B" stroke="#222" stroke-width="1"/>
<text x="594.2" y="51.8" font-size="23" font-family="Liberation Serif, serif" font-weight="bold" fill="#000" style="font-kerning:none">Broadleaf Forest</text>
<rect x="771.4" y="33.2" width="50" height="19.2" fill="#E9623E" stroke="#222" stroke-width="1"/>
<text x="826.2" y="51.8" font-size="23" font-family="Liberation Serif, serif" font-weight="bold" fill="#000" style="font-kerning:none">Needleleaf Forest</text>
<rect x="1008.9" y="33.2" width="50" height="19.2" fill="#F0B666" stroke="#222" stroke-width="1"/>
<text x="1064.0" y="51.8" font-size="23" font-family="Liberation Serif, serif" font-weight="bold" fill="#000" style="font-kerning:none">Cropland</text>
<rect x="1169.6" y="33.2" width="50" height="19.2" fill="#7BB2D6" stroke="#222" stroke-width="1"/>
<text x="1223.8" y="51.8" font-size="23" font-family="Liberation Serif, serif" font-weight="bold" fill="#000" style="font-kerning:none">Grassland</text>
</svg>
</body></html>
